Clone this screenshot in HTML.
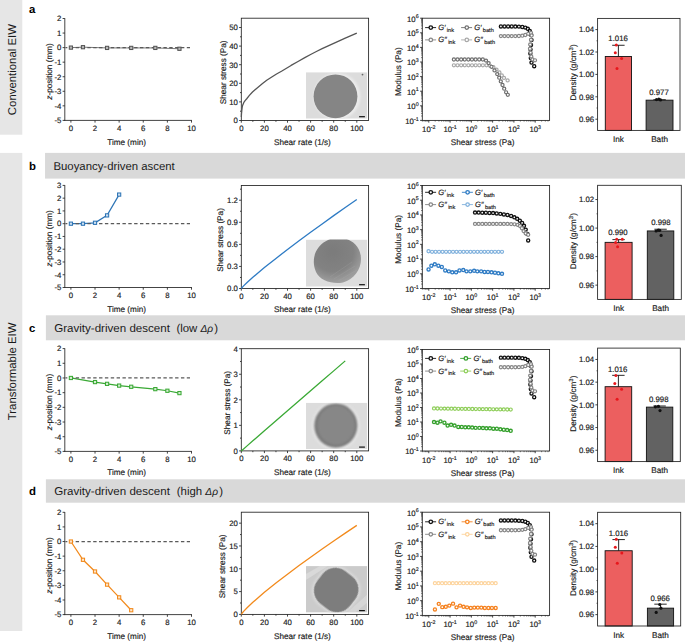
<!DOCTYPE html>
<html><head><meta charset="utf-8"><style>
html,body{margin:0;padding:0;background:#fff;}
svg{display:block;text-rendering:geometricPrecision;}
text{stroke:#1a1a1a;stroke-width:0.16px;}
text[font-size="11.4"]{stroke:none;}
svg{font-family:"Liberation Sans", sans-serif;}
</style></head><body>
<svg width="685" height="642" viewBox="0 0 685 642">
<rect x="0" y="0" width="22.3" height="134.7" fill="#e6e6e6"/>
<rect x="0" y="152.9" width="22.3" height="478.1" fill="#e6e6e6"/>
<text transform="translate(15.6,69.6) rotate(-90)" font-size="11.4" text-anchor="middle" fill="#1a1a1a" >Conventional EIW</text>
<text transform="translate(15.6,371.4) rotate(-90)" font-size="11.4" text-anchor="middle" fill="#1a1a1a" >Transformable EIW</text>
<rect x="45.05" y="152.9" width="639.95" height="25.7" fill="#d9d9d9"/>
<text x="29" y="169.75" font-size="11.4" text-anchor="start" fill="#000" font-weight="bold">b</text>
<text x="53.4" y="169.75" font-size="11.4" text-anchor="start" fill="#1a1a1a" textLength="121.4" lengthAdjust="spacingAndGlyphs">Buoyancy-driven ascent</text>
<rect x="45.9" y="315.3" width="639.1" height="25" fill="#d9d9d9"/>
<text x="29" y="332.2" font-size="11.4" text-anchor="start" fill="#000" font-weight="bold">c</text>
<text x="54.25" y="331.8" font-size="11.4" text-anchor="start" fill="#1a1a1a" textLength="115.6" lengthAdjust="spacingAndGlyphs">Gravity-driven descent</text>
<text x="176.4" y="331.8" font-size="11.4" text-anchor="start" fill="#1a1a1a" >(low <tspan font-style="italic" font-size="10.2">&#916;&#961;</tspan><tspan dx="1.2">)</tspan></text>
<rect x="45.9" y="479.3" width="639.1" height="23.4" fill="#d9d9d9"/>
<text x="29" y="495.4" font-size="11.4" text-anchor="start" fill="#000" font-weight="bold">d</text>
<text x="54.25" y="495" font-size="11.4" text-anchor="start" fill="#1a1a1a" textLength="115.6" lengthAdjust="spacingAndGlyphs">Gravity-driven descent</text>
<text x="176.8" y="495" font-size="11.4" text-anchor="start" fill="#1a1a1a" >(high <tspan font-style="italic" font-size="10.2">&#916;&#961;</tspan><tspan dx="1.2">)</tspan></text>
<text x="29" y="12.7" font-size="11.4" text-anchor="start" fill="#000" font-weight="bold">a</text>
<line x1="64.8" y1="18.2" x2="64.8" y2="120.85" stroke="#222" stroke-width="0.85" />
<line x1="64.35" y1="120.4" x2="191.95" y2="120.4" stroke="#222" stroke-width="0.85" />
<line x1="62.6" y1="120.4" x2="64.8" y2="120.4" stroke="#222" stroke-width="0.85" />
<text x="61.4" y="123.2" font-size="7.8" text-anchor="end" fill="#1a1a1a" >-5</text>
<line x1="62.6" y1="105.84" x2="64.8" y2="105.84" stroke="#222" stroke-width="0.85" />
<text x="61.4" y="108.64" font-size="7.8" text-anchor="end" fill="#1a1a1a" >-4</text>
<line x1="62.6" y1="91.29" x2="64.8" y2="91.29" stroke="#222" stroke-width="0.85" />
<text x="61.4" y="94.09" font-size="7.8" text-anchor="end" fill="#1a1a1a" >-3</text>
<line x1="62.6" y1="76.73" x2="64.8" y2="76.73" stroke="#222" stroke-width="0.85" />
<text x="61.4" y="79.53" font-size="7.8" text-anchor="end" fill="#1a1a1a" >-2</text>
<line x1="62.6" y1="62.17" x2="64.8" y2="62.17" stroke="#222" stroke-width="0.85" />
<text x="61.4" y="64.97" font-size="7.8" text-anchor="end" fill="#1a1a1a" >-1</text>
<line x1="62.6" y1="47.61" x2="64.8" y2="47.61" stroke="#222" stroke-width="0.85" />
<text x="61.4" y="50.41" font-size="7.8" text-anchor="end" fill="#1a1a1a" >0</text>
<line x1="62.6" y1="33.06" x2="64.8" y2="33.06" stroke="#222" stroke-width="0.85" />
<text x="61.4" y="35.86" font-size="7.8" text-anchor="end" fill="#1a1a1a" >1</text>
<line x1="62.6" y1="18.5" x2="64.8" y2="18.5" stroke="#222" stroke-width="0.85" />
<text x="61.4" y="21.3" font-size="7.8" text-anchor="end" fill="#1a1a1a" >2</text>
<line x1="70.9" y1="120.4" x2="70.9" y2="122.6" stroke="#222" stroke-width="0.85" />
<text x="70.9" y="130.6" font-size="7.8" text-anchor="middle" fill="#1a1a1a" >0</text>
<line x1="95.02" y1="120.4" x2="95.02" y2="122.6" stroke="#222" stroke-width="0.85" />
<text x="95.02" y="130.6" font-size="7.8" text-anchor="middle" fill="#1a1a1a" >2</text>
<line x1="119.14" y1="120.4" x2="119.14" y2="122.6" stroke="#222" stroke-width="0.85" />
<text x="119.14" y="130.6" font-size="7.8" text-anchor="middle" fill="#1a1a1a" >4</text>
<line x1="143.26" y1="120.4" x2="143.26" y2="122.6" stroke="#222" stroke-width="0.85" />
<text x="143.26" y="130.6" font-size="7.8" text-anchor="middle" fill="#1a1a1a" >6</text>
<line x1="167.38" y1="120.4" x2="167.38" y2="122.6" stroke="#222" stroke-width="0.85" />
<text x="167.38" y="130.6" font-size="7.8" text-anchor="middle" fill="#1a1a1a" >8</text>
<line x1="191.5" y1="120.4" x2="191.5" y2="122.6" stroke="#222" stroke-width="0.85" />
<text x="191.5" y="130.6" font-size="7.8" text-anchor="middle" fill="#1a1a1a" >10</text>
<polyline points="70.9,47.61 82.96,47.18 107.08,47.91 131.2,47.91 155.32,47.91 179.44,48.78" fill="none" stroke="#555" stroke-width="0.8"/>
<line x1="65.4" y1="47.61" x2="190" y2="47.61" stroke="#5a5a5a" stroke-width="1.3" stroke-dasharray="3.4,2.45" stroke-dashoffset="1.45"/>
<rect x="69.3" y="46.01" width="3.2" height="3.2" fill="#bbb" stroke="#555" stroke-width="1.05"/>
<rect x="81.36" y="45.58" width="3.2" height="3.2" fill="#bbb" stroke="#555" stroke-width="1.05"/>
<rect x="105.48" y="46.31" width="3.2" height="3.2" fill="#bbb" stroke="#555" stroke-width="1.05"/>
<rect x="129.6" y="46.31" width="3.2" height="3.2" fill="#bbb" stroke="#555" stroke-width="1.05"/>
<rect x="153.72" y="46.31" width="3.2" height="3.2" fill="#bbb" stroke="#555" stroke-width="1.05"/>
<rect x="177.84" y="47.18" width="3.2" height="3.2" fill="#bbb" stroke="#555" stroke-width="1.05"/>
<text x="126.6" y="144.8" font-size="8.2" text-anchor="middle" fill="#1a1a1a" >Time (min)</text>
<text transform="translate(51.7,71.45) rotate(-90)" font-size="8.2" text-anchor="middle" fill="#1a1a1a" ><tspan font-style="italic">z</tspan>-position (mm)</text>
<line x1="64.8" y1="185.1" x2="64.8" y2="287.95" stroke="#222" stroke-width="0.85" />
<line x1="64.35" y1="287.5" x2="191.95" y2="287.5" stroke="#222" stroke-width="0.85" />
<line x1="62.6" y1="287.5" x2="64.8" y2="287.5" stroke="#222" stroke-width="0.85" />
<text x="61.4" y="290.3" font-size="7.8" text-anchor="end" fill="#1a1a1a" >-5</text>
<line x1="62.6" y1="274.74" x2="64.8" y2="274.74" stroke="#222" stroke-width="0.85" />
<text x="61.4" y="277.54" font-size="7.8" text-anchor="end" fill="#1a1a1a" >-4</text>
<line x1="62.6" y1="261.98" x2="64.8" y2="261.98" stroke="#222" stroke-width="0.85" />
<text x="61.4" y="264.78" font-size="7.8" text-anchor="end" fill="#1a1a1a" >-3</text>
<line x1="62.6" y1="249.21" x2="64.8" y2="249.21" stroke="#222" stroke-width="0.85" />
<text x="61.4" y="252.01" font-size="7.8" text-anchor="end" fill="#1a1a1a" >-2</text>
<line x1="62.6" y1="236.45" x2="64.8" y2="236.45" stroke="#222" stroke-width="0.85" />
<text x="61.4" y="239.25" font-size="7.8" text-anchor="end" fill="#1a1a1a" >-1</text>
<line x1="62.6" y1="223.69" x2="64.8" y2="223.69" stroke="#222" stroke-width="0.85" />
<text x="61.4" y="226.49" font-size="7.8" text-anchor="end" fill="#1a1a1a" >0</text>
<line x1="62.6" y1="210.93" x2="64.8" y2="210.93" stroke="#222" stroke-width="0.85" />
<text x="61.4" y="213.73" font-size="7.8" text-anchor="end" fill="#1a1a1a" >1</text>
<line x1="62.6" y1="198.16" x2="64.8" y2="198.16" stroke="#222" stroke-width="0.85" />
<text x="61.4" y="200.96" font-size="7.8" text-anchor="end" fill="#1a1a1a" >2</text>
<line x1="62.6" y1="185.4" x2="64.8" y2="185.4" stroke="#222" stroke-width="0.85" />
<text x="61.4" y="188.2" font-size="7.8" text-anchor="end" fill="#1a1a1a" >3</text>
<line x1="70.9" y1="287.5" x2="70.9" y2="289.7" stroke="#222" stroke-width="0.85" />
<text x="70.9" y="297.7" font-size="7.8" text-anchor="middle" fill="#1a1a1a" >0</text>
<line x1="95.02" y1="287.5" x2="95.02" y2="289.7" stroke="#222" stroke-width="0.85" />
<text x="95.02" y="297.7" font-size="7.8" text-anchor="middle" fill="#1a1a1a" >2</text>
<line x1="119.14" y1="287.5" x2="119.14" y2="289.7" stroke="#222" stroke-width="0.85" />
<text x="119.14" y="297.7" font-size="7.8" text-anchor="middle" fill="#1a1a1a" >4</text>
<line x1="143.26" y1="287.5" x2="143.26" y2="289.7" stroke="#222" stroke-width="0.85" />
<text x="143.26" y="297.7" font-size="7.8" text-anchor="middle" fill="#1a1a1a" >6</text>
<line x1="167.38" y1="287.5" x2="167.38" y2="289.7" stroke="#222" stroke-width="0.85" />
<text x="167.38" y="297.7" font-size="7.8" text-anchor="middle" fill="#1a1a1a" >8</text>
<line x1="191.5" y1="287.5" x2="191.5" y2="289.7" stroke="#222" stroke-width="0.85" />
<text x="191.5" y="297.7" font-size="7.8" text-anchor="middle" fill="#1a1a1a" >10</text>
<polyline points="70.9,223.69 82.96,223.69 95.02,222.79 107.08,215.39 119.14,194.59" fill="none" stroke="#2e75b6" stroke-width="1.25"/>
<line x1="65.4" y1="223.69" x2="190" y2="223.69" stroke="#5a5a5a" stroke-width="1.3" stroke-dasharray="3.4,2.45" stroke-dashoffset="1.45"/>
<rect x="69.3" y="222.09" width="3.2" height="3.2" fill="#cfe0f0" stroke="#2e75b6" stroke-width="1.05"/>
<rect x="81.36" y="222.09" width="3.2" height="3.2" fill="#cfe0f0" stroke="#2e75b6" stroke-width="1.05"/>
<rect x="93.42" y="221.19" width="3.2" height="3.2" fill="#cfe0f0" stroke="#2e75b6" stroke-width="1.05"/>
<rect x="105.48" y="213.79" width="3.2" height="3.2" fill="#cfe0f0" stroke="#2e75b6" stroke-width="1.05"/>
<rect x="117.54" y="192.99" width="3.2" height="3.2" fill="#cfe0f0" stroke="#2e75b6" stroke-width="1.05"/>
<text x="126.6" y="311.7" font-size="8.2" text-anchor="middle" fill="#1a1a1a" >Time (min)</text>
<text transform="translate(51.7,238.45) rotate(-90)" font-size="8.2" text-anchor="middle" fill="#1a1a1a" ><tspan font-style="italic">z</tspan>-position (mm)</text>
<line x1="64.8" y1="348.3" x2="64.8" y2="451.85" stroke="#222" stroke-width="0.85" />
<line x1="64.35" y1="451.4" x2="191.95" y2="451.4" stroke="#222" stroke-width="0.85" />
<line x1="62.6" y1="451.4" x2="64.8" y2="451.4" stroke="#222" stroke-width="0.85" />
<text x="61.4" y="454.2" font-size="7.8" text-anchor="end" fill="#1a1a1a" >-5</text>
<line x1="62.6" y1="436.71" x2="64.8" y2="436.71" stroke="#222" stroke-width="0.85" />
<text x="61.4" y="439.51" font-size="7.8" text-anchor="end" fill="#1a1a1a" >-4</text>
<line x1="62.6" y1="422.03" x2="64.8" y2="422.03" stroke="#222" stroke-width="0.85" />
<text x="61.4" y="424.83" font-size="7.8" text-anchor="end" fill="#1a1a1a" >-3</text>
<line x1="62.6" y1="407.34" x2="64.8" y2="407.34" stroke="#222" stroke-width="0.85" />
<text x="61.4" y="410.14" font-size="7.8" text-anchor="end" fill="#1a1a1a" >-2</text>
<line x1="62.6" y1="392.66" x2="64.8" y2="392.66" stroke="#222" stroke-width="0.85" />
<text x="61.4" y="395.46" font-size="7.8" text-anchor="end" fill="#1a1a1a" >-1</text>
<line x1="62.6" y1="377.97" x2="64.8" y2="377.97" stroke="#222" stroke-width="0.85" />
<text x="61.4" y="380.77" font-size="7.8" text-anchor="end" fill="#1a1a1a" >0</text>
<line x1="62.6" y1="363.29" x2="64.8" y2="363.29" stroke="#222" stroke-width="0.85" />
<text x="61.4" y="366.09" font-size="7.8" text-anchor="end" fill="#1a1a1a" >1</text>
<line x1="62.6" y1="348.6" x2="64.8" y2="348.6" stroke="#222" stroke-width="0.85" />
<text x="61.4" y="351.4" font-size="7.8" text-anchor="end" fill="#1a1a1a" >2</text>
<line x1="70.9" y1="451.4" x2="70.9" y2="453.6" stroke="#222" stroke-width="0.85" />
<text x="70.9" y="461.6" font-size="7.8" text-anchor="middle" fill="#1a1a1a" >0</text>
<line x1="95.02" y1="451.4" x2="95.02" y2="453.6" stroke="#222" stroke-width="0.85" />
<text x="95.02" y="461.6" font-size="7.8" text-anchor="middle" fill="#1a1a1a" >2</text>
<line x1="119.14" y1="451.4" x2="119.14" y2="453.6" stroke="#222" stroke-width="0.85" />
<text x="119.14" y="461.6" font-size="7.8" text-anchor="middle" fill="#1a1a1a" >4</text>
<line x1="143.26" y1="451.4" x2="143.26" y2="453.6" stroke="#222" stroke-width="0.85" />
<text x="143.26" y="461.6" font-size="7.8" text-anchor="middle" fill="#1a1a1a" >6</text>
<line x1="167.38" y1="451.4" x2="167.38" y2="453.6" stroke="#222" stroke-width="0.85" />
<text x="167.38" y="461.6" font-size="7.8" text-anchor="middle" fill="#1a1a1a" >8</text>
<line x1="191.5" y1="451.4" x2="191.5" y2="453.6" stroke="#222" stroke-width="0.85" />
<text x="191.5" y="461.6" font-size="7.8" text-anchor="middle" fill="#1a1a1a" >10</text>
<polyline points="70.9,377.97 95.02,382.08 107.08,383.85 119.14,385.61 131.2,386.78 155.32,389.13 167.38,390.75 179.44,393.1" fill="none" stroke="#3aa935" stroke-width="1.25"/>
<line x1="65.4" y1="377.97" x2="190" y2="377.97" stroke="#5a5a5a" stroke-width="1.3" stroke-dasharray="3.4,2.45" stroke-dashoffset="1.45"/>
<rect x="69.3" y="376.37" width="3.2" height="3.2" fill="#d5eed2" stroke="#3aa935" stroke-width="1.05"/>
<rect x="93.42" y="380.48" width="3.2" height="3.2" fill="#d5eed2" stroke="#3aa935" stroke-width="1.05"/>
<rect x="105.48" y="382.25" width="3.2" height="3.2" fill="#d5eed2" stroke="#3aa935" stroke-width="1.05"/>
<rect x="117.54" y="384.01" width="3.2" height="3.2" fill="#d5eed2" stroke="#3aa935" stroke-width="1.05"/>
<rect x="129.6" y="385.18" width="3.2" height="3.2" fill="#d5eed2" stroke="#3aa935" stroke-width="1.05"/>
<rect x="153.72" y="387.53" width="3.2" height="3.2" fill="#d5eed2" stroke="#3aa935" stroke-width="1.05"/>
<rect x="165.78" y="389.15" width="3.2" height="3.2" fill="#d5eed2" stroke="#3aa935" stroke-width="1.05"/>
<rect x="177.84" y="391.5" width="3.2" height="3.2" fill="#d5eed2" stroke="#3aa935" stroke-width="1.05"/>
<text x="126.6" y="474.6" font-size="8.2" text-anchor="middle" fill="#1a1a1a" >Time (min)</text>
<text transform="translate(51.7,402) rotate(-90)" font-size="8.2" text-anchor="middle" fill="#1a1a1a" ><tspan font-style="italic">z</tspan>-position (mm)</text>
<line x1="64.8" y1="512" x2="64.8" y2="615.05" stroke="#222" stroke-width="0.85" />
<line x1="64.35" y1="614.6" x2="191.95" y2="614.6" stroke="#222" stroke-width="0.85" />
<line x1="62.6" y1="614.6" x2="64.8" y2="614.6" stroke="#222" stroke-width="0.85" />
<text x="61.4" y="617.4" font-size="7.8" text-anchor="end" fill="#1a1a1a" >-5</text>
<line x1="62.6" y1="599.99" x2="64.8" y2="599.99" stroke="#222" stroke-width="0.85" />
<text x="61.4" y="602.79" font-size="7.8" text-anchor="end" fill="#1a1a1a" >-4</text>
<line x1="62.6" y1="585.37" x2="64.8" y2="585.37" stroke="#222" stroke-width="0.85" />
<text x="61.4" y="588.17" font-size="7.8" text-anchor="end" fill="#1a1a1a" >-3</text>
<line x1="62.6" y1="570.76" x2="64.8" y2="570.76" stroke="#222" stroke-width="0.85" />
<text x="61.4" y="573.56" font-size="7.8" text-anchor="end" fill="#1a1a1a" >-2</text>
<line x1="62.6" y1="556.14" x2="64.8" y2="556.14" stroke="#222" stroke-width="0.85" />
<text x="61.4" y="558.94" font-size="7.8" text-anchor="end" fill="#1a1a1a" >-1</text>
<line x1="62.6" y1="541.53" x2="64.8" y2="541.53" stroke="#222" stroke-width="0.85" />
<text x="61.4" y="544.33" font-size="7.8" text-anchor="end" fill="#1a1a1a" >0</text>
<line x1="62.6" y1="526.91" x2="64.8" y2="526.91" stroke="#222" stroke-width="0.85" />
<text x="61.4" y="529.71" font-size="7.8" text-anchor="end" fill="#1a1a1a" >1</text>
<line x1="62.6" y1="512.3" x2="64.8" y2="512.3" stroke="#222" stroke-width="0.85" />
<text x="61.4" y="515.1" font-size="7.8" text-anchor="end" fill="#1a1a1a" >2</text>
<line x1="70.9" y1="614.6" x2="70.9" y2="616.8" stroke="#222" stroke-width="0.85" />
<text x="70.9" y="624.8" font-size="7.8" text-anchor="middle" fill="#1a1a1a" >0</text>
<line x1="95.02" y1="614.6" x2="95.02" y2="616.8" stroke="#222" stroke-width="0.85" />
<text x="95.02" y="624.8" font-size="7.8" text-anchor="middle" fill="#1a1a1a" >2</text>
<line x1="119.14" y1="614.6" x2="119.14" y2="616.8" stroke="#222" stroke-width="0.85" />
<text x="119.14" y="624.8" font-size="7.8" text-anchor="middle" fill="#1a1a1a" >4</text>
<line x1="143.26" y1="614.6" x2="143.26" y2="616.8" stroke="#222" stroke-width="0.85" />
<text x="143.26" y="624.8" font-size="7.8" text-anchor="middle" fill="#1a1a1a" >6</text>
<line x1="167.38" y1="614.6" x2="167.38" y2="616.8" stroke="#222" stroke-width="0.85" />
<text x="167.38" y="624.8" font-size="7.8" text-anchor="middle" fill="#1a1a1a" >8</text>
<line x1="191.5" y1="614.6" x2="191.5" y2="616.8" stroke="#222" stroke-width="0.85" />
<text x="191.5" y="624.8" font-size="7.8" text-anchor="middle" fill="#1a1a1a" >10</text>
<polyline points="70.9,541.53 82.96,559.8 95.02,571.49 107.08,584.64 119.14,597.36 131.2,610.22" fill="none" stroke="#f28a1c" stroke-width="1.25"/>
<line x1="65.4" y1="541.53" x2="190" y2="541.53" stroke="#5a5a5a" stroke-width="1.3" stroke-dasharray="3.4,2.45" stroke-dashoffset="1.45"/>
<rect x="69.3" y="539.93" width="3.2" height="3.2" fill="#fde6cc" stroke="#f28a1c" stroke-width="1.05"/>
<rect x="81.36" y="558.2" width="3.2" height="3.2" fill="#fde6cc" stroke="#f28a1c" stroke-width="1.05"/>
<rect x="93.42" y="569.89" width="3.2" height="3.2" fill="#fde6cc" stroke="#f28a1c" stroke-width="1.05"/>
<rect x="105.48" y="583.04" width="3.2" height="3.2" fill="#fde6cc" stroke="#f28a1c" stroke-width="1.05"/>
<rect x="117.54" y="595.76" width="3.2" height="3.2" fill="#fde6cc" stroke="#f28a1c" stroke-width="1.05"/>
<rect x="129.6" y="608.62" width="3.2" height="3.2" fill="#fde6cc" stroke="#f28a1c" stroke-width="1.05"/>
<text x="126.6" y="638.6" font-size="8.2" text-anchor="middle" fill="#1a1a1a" >Time (min)</text>
<text transform="translate(51.7,565.45) rotate(-90)" font-size="8.2" text-anchor="middle" fill="#1a1a1a" ><tspan font-style="italic">z</tspan>-position (mm)</text>
<defs><radialGradient id="gb" cx="0.4" cy="0.3" r="0.8"><stop offset="0" stop-color="#7b7b7b"/><stop offset="0.55" stop-color="#828282"/><stop offset="1" stop-color="#ababab"/></radialGradient><filter id="bl05" x="-20%" y="-20%" width="140%" height="140%"><feGaussianBlur stdDeviation="0.5"/></filter><filter id="bl1" x="-20%" y="-20%" width="140%" height="140%"><feGaussianBlur stdDeviation="1.0"/></filter></defs>
<clipPath id="clip18"><rect x="305.9" y="72.2" width="61.4" height="46.5"/></clipPath>
<g clip-path="url(#clip18)">
<rect x="305.9" y="72.2" width="61.4" height="46.5" fill="#dcdcdc"/>
<circle cx="337.0" cy="96.4" r="23.4" fill="#ebebeb" filter="url(#bl1)"/><circle cx="335.5" cy="96.3" r="21.9" fill="#858585" filter="url(#bl05)"/><circle cx="362.5" cy="74.6" r="0.9" fill="#666"/>
</g>
<rect x="359.1" y="116.1" width="5.8" height="1.2" fill="#111"/>
<rect x="241.3" y="18.2" width="127.3" height="102.3" fill="none" stroke="#222" stroke-width="0.85"/>
<line x1="239.1" y1="120.5" x2="241.3" y2="120.5" stroke="#222" stroke-width="0.85" />
<text x="237.9" y="123.3" font-size="7.8" text-anchor="end" fill="#1a1a1a" >0</text>
<line x1="239.1" y1="101.9" x2="241.3" y2="101.9" stroke="#222" stroke-width="0.85" />
<text x="237.9" y="104.7" font-size="7.8" text-anchor="end" fill="#1a1a1a" >10</text>
<line x1="239.1" y1="83.3" x2="241.3" y2="83.3" stroke="#222" stroke-width="0.85" />
<text x="237.9" y="86.1" font-size="7.8" text-anchor="end" fill="#1a1a1a" >20</text>
<line x1="239.1" y1="64.7" x2="241.3" y2="64.7" stroke="#222" stroke-width="0.85" />
<text x="237.9" y="67.5" font-size="7.8" text-anchor="end" fill="#1a1a1a" >30</text>
<line x1="239.1" y1="46.1" x2="241.3" y2="46.1" stroke="#222" stroke-width="0.85" />
<text x="237.9" y="48.9" font-size="7.8" text-anchor="end" fill="#1a1a1a" >40</text>
<line x1="239.1" y1="27.5" x2="241.3" y2="27.5" stroke="#222" stroke-width="0.85" />
<text x="237.9" y="30.3" font-size="7.8" text-anchor="end" fill="#1a1a1a" >50</text>
<line x1="240" y1="111.2" x2="241.3" y2="111.2" stroke="#222" stroke-width="0.85" />
<line x1="240" y1="92.6" x2="241.3" y2="92.6" stroke="#222" stroke-width="0.85" />
<line x1="240" y1="74" x2="241.3" y2="74" stroke="#222" stroke-width="0.85" />
<line x1="240" y1="55.4" x2="241.3" y2="55.4" stroke="#222" stroke-width="0.85" />
<line x1="240" y1="36.8" x2="241.3" y2="36.8" stroke="#222" stroke-width="0.85" />
<line x1="241.3" y1="120.5" x2="241.3" y2="122.7" stroke="#222" stroke-width="0.85" />
<text x="241.3" y="130.7" font-size="7.8" text-anchor="middle" fill="#1a1a1a" >0</text>
<line x1="264.4" y1="120.5" x2="264.4" y2="122.7" stroke="#222" stroke-width="0.85" />
<text x="264.4" y="130.7" font-size="7.8" text-anchor="middle" fill="#1a1a1a" >20</text>
<line x1="287.5" y1="120.5" x2="287.5" y2="122.7" stroke="#222" stroke-width="0.85" />
<text x="287.5" y="130.7" font-size="7.8" text-anchor="middle" fill="#1a1a1a" >40</text>
<line x1="310.6" y1="120.5" x2="310.6" y2="122.7" stroke="#222" stroke-width="0.85" />
<text x="310.6" y="130.7" font-size="7.8" text-anchor="middle" fill="#1a1a1a" >60</text>
<line x1="333.7" y1="120.5" x2="333.7" y2="122.7" stroke="#222" stroke-width="0.85" />
<text x="333.7" y="130.7" font-size="7.8" text-anchor="middle" fill="#1a1a1a" >80</text>
<line x1="356.8" y1="120.5" x2="356.8" y2="122.7" stroke="#222" stroke-width="0.85" />
<text x="356.8" y="130.7" font-size="7.8" text-anchor="middle" fill="#1a1a1a" >100</text>
<line x1="252.85" y1="120.5" x2="252.85" y2="121.8" stroke="#222" stroke-width="0.85" />
<line x1="275.95" y1="120.5" x2="275.95" y2="121.8" stroke="#222" stroke-width="0.85" />
<line x1="299.05" y1="120.5" x2="299.05" y2="121.8" stroke="#222" stroke-width="0.85" />
<line x1="322.15" y1="120.5" x2="322.15" y2="121.8" stroke="#222" stroke-width="0.85" />
<line x1="345.25" y1="120.5" x2="345.25" y2="121.8" stroke="#222" stroke-width="0.85" />
<polyline points="241.32,116.97 241.47,113.99 241.76,110.83 242.11,107.85 242.57,105.43 243.84,102.46 245.11,100.6 246.73,98.74 249.39,95.39 252.5,92.04 256.89,88.14 262.21,83.86 266.71,80.32 271.79,76.98 276.53,74 281.49,71.21 291.08,65.44 298.01,61.54 304.82,57.63 310.6,54.47 316.38,51.49 322.15,48.7 333.7,43.31 345.25,38.1 356.8,33.08" fill="none" stroke="#555" stroke-width="1.3" stroke-linejoin="round"/>
<text x="302.4" y="144.8" font-size="8.2" text-anchor="middle" fill="#1a1a1a" >Shear rate (1/s)</text>
<text transform="translate(226,72.35) rotate(-90)" font-size="8.2" text-anchor="middle" fill="#1a1a1a" >Shear stress (Pa)</text>
<clipPath id="clip185"><rect x="305.9" y="239.6" width="61.4" height="47.1"/></clipPath>
<g clip-path="url(#clip185)">
<rect x="305.9" y="239.6" width="61.4" height="47.1" fill="#dddddd"/>
<path d="M313.8,262 C313.8,251 320,243.5 329,239.5 C333,237.5 344,237.5 348,239.5 C356,243 361,250 361,259 C361,270 354,279 343,282.5 C333,284.5 320,281 316,272 C314.5,268 313.8,265 313.8,262 Z" fill="url(#gb)" filter="url(#bl05)"/><path d="M330,277 L352,262 M334,279 L355,266 M338,281 L357,270" stroke="#b0b0b0" stroke-width="0.6" opacity="0.35"/>
</g>
<rect x="359.1" y="284.1" width="5.8" height="1.2" fill="#111"/>
<rect x="241.3" y="185.5" width="127.3" height="103" fill="none" stroke="#222" stroke-width="0.85"/>
<line x1="239.1" y1="288.5" x2="241.3" y2="288.5" stroke="#222" stroke-width="0.85" />
<text x="237.9" y="291.3" font-size="7.8" text-anchor="end" fill="#1a1a1a" >0.0</text>
<line x1="239.1" y1="266.43" x2="241.3" y2="266.43" stroke="#222" stroke-width="0.85" />
<text x="237.9" y="269.23" font-size="7.8" text-anchor="end" fill="#1a1a1a" >0.3</text>
<line x1="239.1" y1="244.36" x2="241.3" y2="244.36" stroke="#222" stroke-width="0.85" />
<text x="237.9" y="247.16" font-size="7.8" text-anchor="end" fill="#1a1a1a" >0.6</text>
<line x1="239.1" y1="222.29" x2="241.3" y2="222.29" stroke="#222" stroke-width="0.85" />
<text x="237.9" y="225.09" font-size="7.8" text-anchor="end" fill="#1a1a1a" >0.9</text>
<line x1="239.1" y1="200.21" x2="241.3" y2="200.21" stroke="#222" stroke-width="0.85" />
<text x="237.9" y="203.01" font-size="7.8" text-anchor="end" fill="#1a1a1a" >1.2</text>
<line x1="240" y1="277.46" x2="241.3" y2="277.46" stroke="#222" stroke-width="0.85" />
<line x1="240" y1="255.39" x2="241.3" y2="255.39" stroke="#222" stroke-width="0.85" />
<line x1="240" y1="233.32" x2="241.3" y2="233.32" stroke="#222" stroke-width="0.85" />
<line x1="240" y1="211.25" x2="241.3" y2="211.25" stroke="#222" stroke-width="0.85" />
<line x1="240" y1="189.18" x2="241.3" y2="189.18" stroke="#222" stroke-width="0.85" />
<line x1="241.3" y1="288.5" x2="241.3" y2="290.7" stroke="#222" stroke-width="0.85" />
<text x="241.3" y="298.7" font-size="7.8" text-anchor="middle" fill="#1a1a1a" >0</text>
<line x1="264.4" y1="288.5" x2="264.4" y2="290.7" stroke="#222" stroke-width="0.85" />
<text x="264.4" y="298.7" font-size="7.8" text-anchor="middle" fill="#1a1a1a" >20</text>
<line x1="287.5" y1="288.5" x2="287.5" y2="290.7" stroke="#222" stroke-width="0.85" />
<text x="287.5" y="298.7" font-size="7.8" text-anchor="middle" fill="#1a1a1a" >40</text>
<line x1="310.6" y1="288.5" x2="310.6" y2="290.7" stroke="#222" stroke-width="0.85" />
<text x="310.6" y="298.7" font-size="7.8" text-anchor="middle" fill="#1a1a1a" >60</text>
<line x1="333.7" y1="288.5" x2="333.7" y2="290.7" stroke="#222" stroke-width="0.85" />
<text x="333.7" y="298.7" font-size="7.8" text-anchor="middle" fill="#1a1a1a" >80</text>
<line x1="356.8" y1="288.5" x2="356.8" y2="290.7" stroke="#222" stroke-width="0.85" />
<text x="356.8" y="298.7" font-size="7.8" text-anchor="middle" fill="#1a1a1a" >100</text>
<line x1="252.85" y1="288.5" x2="252.85" y2="289.8" stroke="#222" stroke-width="0.85" />
<line x1="275.95" y1="288.5" x2="275.95" y2="289.8" stroke="#222" stroke-width="0.85" />
<line x1="299.05" y1="288.5" x2="299.05" y2="289.8" stroke="#222" stroke-width="0.85" />
<line x1="322.15" y1="288.5" x2="322.15" y2="289.8" stroke="#222" stroke-width="0.85" />
<line x1="345.25" y1="288.5" x2="345.25" y2="289.8" stroke="#222" stroke-width="0.85" />
<polyline points="241.3,288.5 242.46,287.09 243.61,285.88 247.08,282.51 252.85,277.31 264.4,267.61 275.95,258.4 287.5,249.49 299.05,240.8 310.6,232.28 322.15,223.91 333.7,215.65 345.25,207.49 356.8,199.43" fill="none" stroke="#2e7bc4" stroke-width="1.3" stroke-linejoin="round"/>
<text x="302.4" y="312" font-size="8.2" text-anchor="middle" fill="#1a1a1a" >Shear rate (1/s)</text>
<text transform="translate(223,240) rotate(-90)" font-size="8.2" text-anchor="middle" fill="#1a1a1a" >Shear stress (Pa)</text>
<clipPath id="clip348"><rect x="305.9" y="402.7" width="61.4" height="46.4"/></clipPath>
<g clip-path="url(#clip348)">
<rect x="305.9" y="402.7" width="61.4" height="46.4" fill="#dcdcdc"/>
<ellipse cx="335.8" cy="425.8" rx="23.8" ry="24" fill="#eaeaea" filter="url(#bl1)"/><ellipse cx="335.8" cy="425.6" rx="21.6" ry="22.2" fill="#7c7c7c" filter="url(#bl1)"/><ellipse cx="336.2" cy="425.2" rx="18.5" ry="19.5" fill="#878787" filter="url(#bl1)"/>
</g>
<rect x="359.1" y="446.5" width="5.8" height="1.2" fill="#111"/>
<rect x="241.3" y="348.7" width="127.3" height="102.2" fill="none" stroke="#222" stroke-width="0.85"/>
<line x1="239.1" y1="450.9" x2="241.3" y2="450.9" stroke="#222" stroke-width="0.85" />
<text x="237.9" y="453.7" font-size="7.8" text-anchor="end" fill="#1a1a1a" >0</text>
<line x1="239.1" y1="425.35" x2="241.3" y2="425.35" stroke="#222" stroke-width="0.85" />
<text x="237.9" y="428.15" font-size="7.8" text-anchor="end" fill="#1a1a1a" >1</text>
<line x1="239.1" y1="399.8" x2="241.3" y2="399.8" stroke="#222" stroke-width="0.85" />
<text x="237.9" y="402.6" font-size="7.8" text-anchor="end" fill="#1a1a1a" >2</text>
<line x1="239.1" y1="374.25" x2="241.3" y2="374.25" stroke="#222" stroke-width="0.85" />
<text x="237.9" y="377.05" font-size="7.8" text-anchor="end" fill="#1a1a1a" >3</text>
<line x1="239.1" y1="348.7" x2="241.3" y2="348.7" stroke="#222" stroke-width="0.85" />
<text x="237.9" y="351.5" font-size="7.8" text-anchor="end" fill="#1a1a1a" >4</text>
<line x1="240" y1="438.12" x2="241.3" y2="438.12" stroke="#222" stroke-width="0.85" />
<line x1="240" y1="412.57" x2="241.3" y2="412.57" stroke="#222" stroke-width="0.85" />
<line x1="240" y1="387.02" x2="241.3" y2="387.02" stroke="#222" stroke-width="0.85" />
<line x1="240" y1="361.48" x2="241.3" y2="361.48" stroke="#222" stroke-width="0.85" />
<line x1="241.3" y1="450.9" x2="241.3" y2="453.1" stroke="#222" stroke-width="0.85" />
<text x="241.3" y="461.1" font-size="7.8" text-anchor="middle" fill="#1a1a1a" >0</text>
<line x1="264.4" y1="450.9" x2="264.4" y2="453.1" stroke="#222" stroke-width="0.85" />
<text x="264.4" y="461.1" font-size="7.8" text-anchor="middle" fill="#1a1a1a" >20</text>
<line x1="287.5" y1="450.9" x2="287.5" y2="453.1" stroke="#222" stroke-width="0.85" />
<text x="287.5" y="461.1" font-size="7.8" text-anchor="middle" fill="#1a1a1a" >40</text>
<line x1="310.6" y1="450.9" x2="310.6" y2="453.1" stroke="#222" stroke-width="0.85" />
<text x="310.6" y="461.1" font-size="7.8" text-anchor="middle" fill="#1a1a1a" >60</text>
<line x1="333.7" y1="450.9" x2="333.7" y2="453.1" stroke="#222" stroke-width="0.85" />
<text x="333.7" y="461.1" font-size="7.8" text-anchor="middle" fill="#1a1a1a" >80</text>
<line x1="356.8" y1="450.9" x2="356.8" y2="453.1" stroke="#222" stroke-width="0.85" />
<text x="356.8" y="461.1" font-size="7.8" text-anchor="middle" fill="#1a1a1a" >100</text>
<line x1="252.85" y1="450.9" x2="252.85" y2="452.2" stroke="#222" stroke-width="0.85" />
<line x1="275.95" y1="450.9" x2="275.95" y2="452.2" stroke="#222" stroke-width="0.85" />
<line x1="299.05" y1="450.9" x2="299.05" y2="452.2" stroke="#222" stroke-width="0.85" />
<line x1="322.15" y1="450.9" x2="322.15" y2="452.2" stroke="#222" stroke-width="0.85" />
<line x1="345.25" y1="450.9" x2="345.25" y2="452.2" stroke="#222" stroke-width="0.85" />
<polyline points="241.3,450.9 242.46,449.89 247.08,445.87 252.85,440.85 264.4,430.84 275.95,420.83 287.5,410.83 299.05,400.83 310.6,390.84 322.15,380.85 333.7,370.87 345.25,360.88" fill="none" stroke="#3aa935" stroke-width="1.3" stroke-linejoin="round"/>
<text x="302.4" y="474.8" font-size="8.2" text-anchor="middle" fill="#1a1a1a" >Shear rate (1/s)</text>
<text transform="translate(230,402.8) rotate(-90)" font-size="8.2" text-anchor="middle" fill="#1a1a1a" >Shear stress (Pa)</text>
<clipPath id="clip512"><rect x="305.9" y="566.1" width="61.4" height="46.5"/></clipPath>
<g clip-path="url(#clip512)">
<rect x="305.9" y="566.1" width="61.4" height="46.5" fill="#cbcbcb"/>
<path d="M305.9,574.1 L319.9,566.1 L327.9,566.1 L305.9,580.1 Z" fill="#dedede" opacity="0.7"/><path d="M347.3,612.6 L367.3,594.6 L367.3,602.6 L355.3,612.6 Z" fill="#dedede" opacity="0.6"/><rect x="313.7" y="567.5" width="45" height="45" rx="18" fill="#dadada" filter="url(#bl1)" transform="rotate(38 336.2 590)"/><rect x="315.6" y="569.4" width="41.2" height="41.2" rx="16.5" fill="#7d7d7d" filter="url(#bl05)" transform="rotate(38 336.2 590)"/>
</g>
<rect x="359.1" y="610" width="5.8" height="1.2" fill="#111"/>
<rect x="241.3" y="512.2" width="127.3" height="102.2" fill="none" stroke="#222" stroke-width="0.85"/>
<line x1="239.1" y1="614.4" x2="241.3" y2="614.4" stroke="#222" stroke-width="0.85" />
<text x="237.9" y="617.2" font-size="7.8" text-anchor="end" fill="#1a1a1a" >0</text>
<line x1="239.1" y1="591.59" x2="241.3" y2="591.59" stroke="#222" stroke-width="0.85" />
<text x="237.9" y="594.39" font-size="7.8" text-anchor="end" fill="#1a1a1a" >5</text>
<line x1="239.1" y1="568.77" x2="241.3" y2="568.77" stroke="#222" stroke-width="0.85" />
<text x="237.9" y="571.57" font-size="7.8" text-anchor="end" fill="#1a1a1a" >10</text>
<line x1="239.1" y1="545.96" x2="241.3" y2="545.96" stroke="#222" stroke-width="0.85" />
<text x="237.9" y="548.76" font-size="7.8" text-anchor="end" fill="#1a1a1a" >15</text>
<line x1="239.1" y1="523.15" x2="241.3" y2="523.15" stroke="#222" stroke-width="0.85" />
<text x="237.9" y="525.95" font-size="7.8" text-anchor="end" fill="#1a1a1a" >20</text>
<line x1="240" y1="602.99" x2="241.3" y2="602.99" stroke="#222" stroke-width="0.85" />
<line x1="240" y1="580.18" x2="241.3" y2="580.18" stroke="#222" stroke-width="0.85" />
<line x1="240" y1="557.37" x2="241.3" y2="557.37" stroke="#222" stroke-width="0.85" />
<line x1="240" y1="534.56" x2="241.3" y2="534.56" stroke="#222" stroke-width="0.85" />
<line x1="241.3" y1="614.4" x2="241.3" y2="616.6" stroke="#222" stroke-width="0.85" />
<text x="241.3" y="624.6" font-size="7.8" text-anchor="middle" fill="#1a1a1a" >0</text>
<line x1="264.4" y1="614.4" x2="264.4" y2="616.6" stroke="#222" stroke-width="0.85" />
<text x="264.4" y="624.6" font-size="7.8" text-anchor="middle" fill="#1a1a1a" >20</text>
<line x1="287.5" y1="614.4" x2="287.5" y2="616.6" stroke="#222" stroke-width="0.85" />
<text x="287.5" y="624.6" font-size="7.8" text-anchor="middle" fill="#1a1a1a" >40</text>
<line x1="310.6" y1="614.4" x2="310.6" y2="616.6" stroke="#222" stroke-width="0.85" />
<text x="310.6" y="624.6" font-size="7.8" text-anchor="middle" fill="#1a1a1a" >60</text>
<line x1="333.7" y1="614.4" x2="333.7" y2="616.6" stroke="#222" stroke-width="0.85" />
<text x="333.7" y="624.6" font-size="7.8" text-anchor="middle" fill="#1a1a1a" >80</text>
<line x1="356.8" y1="614.4" x2="356.8" y2="616.6" stroke="#222" stroke-width="0.85" />
<text x="356.8" y="624.6" font-size="7.8" text-anchor="middle" fill="#1a1a1a" >100</text>
<line x1="252.85" y1="614.4" x2="252.85" y2="615.7" stroke="#222" stroke-width="0.85" />
<line x1="275.95" y1="614.4" x2="275.95" y2="615.7" stroke="#222" stroke-width="0.85" />
<line x1="299.05" y1="614.4" x2="299.05" y2="615.7" stroke="#222" stroke-width="0.85" />
<line x1="322.15" y1="614.4" x2="322.15" y2="615.7" stroke="#222" stroke-width="0.85" />
<line x1="345.25" y1="614.4" x2="345.25" y2="615.7" stroke="#222" stroke-width="0.85" />
<polyline points="241.3,614.4 242.46,612.75 243.61,611.39 247.08,607.75 252.85,602.28 264.4,592.31 275.95,583.02 287.5,574.15 299.05,565.56 310.6,557.21 322.15,549.04 333.7,541.03 345.25,533.15 356.8,525.39" fill="none" stroke="#f28a1c" stroke-width="1.3" stroke-linejoin="round"/>
<text x="302.4" y="638.6" font-size="8.2" text-anchor="middle" fill="#1a1a1a" >Shear rate (1/s)</text>
<text transform="translate(225,566.3) rotate(-90)" font-size="8.2" text-anchor="middle" fill="#1a1a1a" >Shear stress (Pa)</text>
<rect x="422.3" y="18.2" width="127.3" height="102.2" fill="none" stroke="#222" stroke-width="0.85"/>
<line x1="420.1" y1="120.4" x2="422.3" y2="120.4" stroke="#222" stroke-width="0.85" />
<text x="418.6" y="123.7" font-size="7.8" text-anchor="end" fill="#1a1a1a">10<tspan font-size="5.3" dy="-3.2">-1</tspan></text>
<line x1="421.1" y1="116" x2="422.3" y2="116" stroke="#222" stroke-width="0.6" />
<line x1="421.1" y1="113.43" x2="422.3" y2="113.43" stroke="#222" stroke-width="0.6" />
<line x1="421.1" y1="111.61" x2="422.3" y2="111.61" stroke="#222" stroke-width="0.6" />
<line x1="421.1" y1="110.2" x2="422.3" y2="110.2" stroke="#222" stroke-width="0.6" />
<line x1="421.1" y1="109.04" x2="422.3" y2="109.04" stroke="#222" stroke-width="0.6" />
<line x1="421.1" y1="108.06" x2="422.3" y2="108.06" stroke="#222" stroke-width="0.6" />
<line x1="421.1" y1="107.21" x2="422.3" y2="107.21" stroke="#222" stroke-width="0.6" />
<line x1="421.1" y1="106.47" x2="422.3" y2="106.47" stroke="#222" stroke-width="0.6" />
<line x1="420.1" y1="105.8" x2="422.3" y2="105.8" stroke="#222" stroke-width="0.85" />
<text x="418.6" y="109.1" font-size="7.8" text-anchor="end" fill="#1a1a1a">10<tspan font-size="5.3" dy="-3.2">0</tspan></text>
<line x1="421.1" y1="101.4" x2="422.3" y2="101.4" stroke="#222" stroke-width="0.6" />
<line x1="421.1" y1="98.83" x2="422.3" y2="98.83" stroke="#222" stroke-width="0.6" />
<line x1="421.1" y1="97.01" x2="422.3" y2="97.01" stroke="#222" stroke-width="0.6" />
<line x1="421.1" y1="95.6" x2="422.3" y2="95.6" stroke="#222" stroke-width="0.6" />
<line x1="421.1" y1="94.44" x2="422.3" y2="94.44" stroke="#222" stroke-width="0.6" />
<line x1="421.1" y1="93.46" x2="422.3" y2="93.46" stroke="#222" stroke-width="0.6" />
<line x1="421.1" y1="92.61" x2="422.3" y2="92.61" stroke="#222" stroke-width="0.6" />
<line x1="421.1" y1="91.87" x2="422.3" y2="91.87" stroke="#222" stroke-width="0.6" />
<line x1="420.1" y1="91.2" x2="422.3" y2="91.2" stroke="#222" stroke-width="0.85" />
<text x="418.6" y="94.5" font-size="7.8" text-anchor="end" fill="#1a1a1a">10<tspan font-size="5.3" dy="-3.2">1</tspan></text>
<line x1="421.1" y1="86.8" x2="422.3" y2="86.8" stroke="#222" stroke-width="0.6" />
<line x1="421.1" y1="84.23" x2="422.3" y2="84.23" stroke="#222" stroke-width="0.6" />
<line x1="421.1" y1="82.41" x2="422.3" y2="82.41" stroke="#222" stroke-width="0.6" />
<line x1="421.1" y1="81" x2="422.3" y2="81" stroke="#222" stroke-width="0.6" />
<line x1="421.1" y1="79.84" x2="422.3" y2="79.84" stroke="#222" stroke-width="0.6" />
<line x1="421.1" y1="78.86" x2="422.3" y2="78.86" stroke="#222" stroke-width="0.6" />
<line x1="421.1" y1="78.01" x2="422.3" y2="78.01" stroke="#222" stroke-width="0.6" />
<line x1="421.1" y1="77.27" x2="422.3" y2="77.27" stroke="#222" stroke-width="0.6" />
<line x1="420.1" y1="76.6" x2="422.3" y2="76.6" stroke="#222" stroke-width="0.85" />
<text x="418.6" y="79.9" font-size="7.8" text-anchor="end" fill="#1a1a1a">10<tspan font-size="5.3" dy="-3.2">2</tspan></text>
<line x1="421.1" y1="72.2" x2="422.3" y2="72.2" stroke="#222" stroke-width="0.6" />
<line x1="421.1" y1="69.63" x2="422.3" y2="69.63" stroke="#222" stroke-width="0.6" />
<line x1="421.1" y1="67.81" x2="422.3" y2="67.81" stroke="#222" stroke-width="0.6" />
<line x1="421.1" y1="66.4" x2="422.3" y2="66.4" stroke="#222" stroke-width="0.6" />
<line x1="421.1" y1="65.24" x2="422.3" y2="65.24" stroke="#222" stroke-width="0.6" />
<line x1="421.1" y1="64.26" x2="422.3" y2="64.26" stroke="#222" stroke-width="0.6" />
<line x1="421.1" y1="63.41" x2="422.3" y2="63.41" stroke="#222" stroke-width="0.6" />
<line x1="421.1" y1="62.67" x2="422.3" y2="62.67" stroke="#222" stroke-width="0.6" />
<line x1="420.1" y1="62" x2="422.3" y2="62" stroke="#222" stroke-width="0.85" />
<text x="418.6" y="65.3" font-size="7.8" text-anchor="end" fill="#1a1a1a">10<tspan font-size="5.3" dy="-3.2">3</tspan></text>
<line x1="421.1" y1="57.6" x2="422.3" y2="57.6" stroke="#222" stroke-width="0.6" />
<line x1="421.1" y1="55.03" x2="422.3" y2="55.03" stroke="#222" stroke-width="0.6" />
<line x1="421.1" y1="53.21" x2="422.3" y2="53.21" stroke="#222" stroke-width="0.6" />
<line x1="421.1" y1="51.8" x2="422.3" y2="51.8" stroke="#222" stroke-width="0.6" />
<line x1="421.1" y1="50.64" x2="422.3" y2="50.64" stroke="#222" stroke-width="0.6" />
<line x1="421.1" y1="49.66" x2="422.3" y2="49.66" stroke="#222" stroke-width="0.6" />
<line x1="421.1" y1="48.81" x2="422.3" y2="48.81" stroke="#222" stroke-width="0.6" />
<line x1="421.1" y1="48.07" x2="422.3" y2="48.07" stroke="#222" stroke-width="0.6" />
<line x1="420.1" y1="47.4" x2="422.3" y2="47.4" stroke="#222" stroke-width="0.85" />
<text x="418.6" y="50.7" font-size="7.8" text-anchor="end" fill="#1a1a1a">10<tspan font-size="5.3" dy="-3.2">4</tspan></text>
<line x1="421.1" y1="43" x2="422.3" y2="43" stroke="#222" stroke-width="0.6" />
<line x1="421.1" y1="40.43" x2="422.3" y2="40.43" stroke="#222" stroke-width="0.6" />
<line x1="421.1" y1="38.61" x2="422.3" y2="38.61" stroke="#222" stroke-width="0.6" />
<line x1="421.1" y1="37.2" x2="422.3" y2="37.2" stroke="#222" stroke-width="0.6" />
<line x1="421.1" y1="36.04" x2="422.3" y2="36.04" stroke="#222" stroke-width="0.6" />
<line x1="421.1" y1="35.06" x2="422.3" y2="35.06" stroke="#222" stroke-width="0.6" />
<line x1="421.1" y1="34.21" x2="422.3" y2="34.21" stroke="#222" stroke-width="0.6" />
<line x1="421.1" y1="33.47" x2="422.3" y2="33.47" stroke="#222" stroke-width="0.6" />
<line x1="420.1" y1="32.8" x2="422.3" y2="32.8" stroke="#222" stroke-width="0.85" />
<text x="418.6" y="36.1" font-size="7.8" text-anchor="end" fill="#1a1a1a">10<tspan font-size="5.3" dy="-3.2">5</tspan></text>
<line x1="421.1" y1="28.4" x2="422.3" y2="28.4" stroke="#222" stroke-width="0.6" />
<line x1="421.1" y1="25.83" x2="422.3" y2="25.83" stroke="#222" stroke-width="0.6" />
<line x1="421.1" y1="24.01" x2="422.3" y2="24.01" stroke="#222" stroke-width="0.6" />
<line x1="421.1" y1="22.6" x2="422.3" y2="22.6" stroke="#222" stroke-width="0.6" />
<line x1="421.1" y1="21.44" x2="422.3" y2="21.44" stroke="#222" stroke-width="0.6" />
<line x1="421.1" y1="20.46" x2="422.3" y2="20.46" stroke="#222" stroke-width="0.6" />
<line x1="421.1" y1="19.61" x2="422.3" y2="19.61" stroke="#222" stroke-width="0.6" />
<line x1="421.1" y1="18.87" x2="422.3" y2="18.87" stroke="#222" stroke-width="0.6" />
<line x1="420.1" y1="18.2" x2="422.3" y2="18.2" stroke="#222" stroke-width="0.85" />
<text x="418.6" y="21.5" font-size="7.8" text-anchor="end" fill="#1a1a1a">10<tspan font-size="5.3" dy="-3.2">6</tspan></text>
<line x1="422.39" y1="120.4" x2="422.39" y2="121.6" stroke="#222" stroke-width="0.6" />
<line x1="424.08" y1="120.4" x2="424.08" y2="121.6" stroke="#222" stroke-width="0.6" />
<line x1="425.5" y1="120.4" x2="425.5" y2="121.6" stroke="#222" stroke-width="0.6" />
<line x1="426.74" y1="120.4" x2="426.74" y2="121.6" stroke="#222" stroke-width="0.6" />
<line x1="427.83" y1="120.4" x2="427.83" y2="121.6" stroke="#222" stroke-width="0.6" />
<line x1="428.8" y1="120.4" x2="428.8" y2="122.6" stroke="#222" stroke-width="0.85" />
<text x="428.8" y="132.3" font-size="7.8" text-anchor="middle" fill="#1a1a1a">10<tspan font-size="5.3" dy="-3.2">-2</tspan></text>
<line x1="435.21" y1="120.4" x2="435.21" y2="121.6" stroke="#222" stroke-width="0.6" />
<line x1="438.95" y1="120.4" x2="438.95" y2="121.6" stroke="#222" stroke-width="0.6" />
<line x1="441.61" y1="120.4" x2="441.61" y2="121.6" stroke="#222" stroke-width="0.6" />
<line x1="443.67" y1="120.4" x2="443.67" y2="121.6" stroke="#222" stroke-width="0.6" />
<line x1="445.36" y1="120.4" x2="445.36" y2="121.6" stroke="#222" stroke-width="0.6" />
<line x1="446.78" y1="120.4" x2="446.78" y2="121.6" stroke="#222" stroke-width="0.6" />
<line x1="448.02" y1="120.4" x2="448.02" y2="121.6" stroke="#222" stroke-width="0.6" />
<line x1="449.11" y1="120.4" x2="449.11" y2="121.6" stroke="#222" stroke-width="0.6" />
<line x1="450.08" y1="120.4" x2="450.08" y2="122.6" stroke="#222" stroke-width="0.85" />
<text x="450.08" y="132.3" font-size="7.8" text-anchor="middle" fill="#1a1a1a">10<tspan font-size="5.3" dy="-3.2">-1</tspan></text>
<line x1="456.49" y1="120.4" x2="456.49" y2="121.6" stroke="#222" stroke-width="0.6" />
<line x1="460.23" y1="120.4" x2="460.23" y2="121.6" stroke="#222" stroke-width="0.6" />
<line x1="462.89" y1="120.4" x2="462.89" y2="121.6" stroke="#222" stroke-width="0.6" />
<line x1="464.95" y1="120.4" x2="464.95" y2="121.6" stroke="#222" stroke-width="0.6" />
<line x1="466.64" y1="120.4" x2="466.64" y2="121.6" stroke="#222" stroke-width="0.6" />
<line x1="468.06" y1="120.4" x2="468.06" y2="121.6" stroke="#222" stroke-width="0.6" />
<line x1="469.3" y1="120.4" x2="469.3" y2="121.6" stroke="#222" stroke-width="0.6" />
<line x1="470.39" y1="120.4" x2="470.39" y2="121.6" stroke="#222" stroke-width="0.6" />
<line x1="471.36" y1="120.4" x2="471.36" y2="122.6" stroke="#222" stroke-width="0.85" />
<text x="471.36" y="132.3" font-size="7.8" text-anchor="middle" fill="#1a1a1a">10<tspan font-size="5.3" dy="-3.2">0</tspan></text>
<line x1="477.77" y1="120.4" x2="477.77" y2="121.6" stroke="#222" stroke-width="0.6" />
<line x1="481.51" y1="120.4" x2="481.51" y2="121.6" stroke="#222" stroke-width="0.6" />
<line x1="484.17" y1="120.4" x2="484.17" y2="121.6" stroke="#222" stroke-width="0.6" />
<line x1="486.23" y1="120.4" x2="486.23" y2="121.6" stroke="#222" stroke-width="0.6" />
<line x1="487.92" y1="120.4" x2="487.92" y2="121.6" stroke="#222" stroke-width="0.6" />
<line x1="489.34" y1="120.4" x2="489.34" y2="121.6" stroke="#222" stroke-width="0.6" />
<line x1="490.58" y1="120.4" x2="490.58" y2="121.6" stroke="#222" stroke-width="0.6" />
<line x1="491.67" y1="120.4" x2="491.67" y2="121.6" stroke="#222" stroke-width="0.6" />
<line x1="492.64" y1="120.4" x2="492.64" y2="122.6" stroke="#222" stroke-width="0.85" />
<text x="492.64" y="132.3" font-size="7.8" text-anchor="middle" fill="#1a1a1a">10<tspan font-size="5.3" dy="-3.2">1</tspan></text>
<line x1="499.05" y1="120.4" x2="499.05" y2="121.6" stroke="#222" stroke-width="0.6" />
<line x1="502.79" y1="120.4" x2="502.79" y2="121.6" stroke="#222" stroke-width="0.6" />
<line x1="505.45" y1="120.4" x2="505.45" y2="121.6" stroke="#222" stroke-width="0.6" />
<line x1="507.51" y1="120.4" x2="507.51" y2="121.6" stroke="#222" stroke-width="0.6" />
<line x1="509.2" y1="120.4" x2="509.2" y2="121.6" stroke="#222" stroke-width="0.6" />
<line x1="510.62" y1="120.4" x2="510.62" y2="121.6" stroke="#222" stroke-width="0.6" />
<line x1="511.86" y1="120.4" x2="511.86" y2="121.6" stroke="#222" stroke-width="0.6" />
<line x1="512.95" y1="120.4" x2="512.95" y2="121.6" stroke="#222" stroke-width="0.6" />
<line x1="513.92" y1="120.4" x2="513.92" y2="122.6" stroke="#222" stroke-width="0.85" />
<text x="513.92" y="132.3" font-size="7.8" text-anchor="middle" fill="#1a1a1a">10<tspan font-size="5.3" dy="-3.2">2</tspan></text>
<line x1="520.33" y1="120.4" x2="520.33" y2="121.6" stroke="#222" stroke-width="0.6" />
<line x1="524.07" y1="120.4" x2="524.07" y2="121.6" stroke="#222" stroke-width="0.6" />
<line x1="526.73" y1="120.4" x2="526.73" y2="121.6" stroke="#222" stroke-width="0.6" />
<line x1="528.79" y1="120.4" x2="528.79" y2="121.6" stroke="#222" stroke-width="0.6" />
<line x1="530.48" y1="120.4" x2="530.48" y2="121.6" stroke="#222" stroke-width="0.6" />
<line x1="531.9" y1="120.4" x2="531.9" y2="121.6" stroke="#222" stroke-width="0.6" />
<line x1="533.14" y1="120.4" x2="533.14" y2="121.6" stroke="#222" stroke-width="0.6" />
<line x1="534.23" y1="120.4" x2="534.23" y2="121.6" stroke="#222" stroke-width="0.6" />
<line x1="535.2" y1="120.4" x2="535.2" y2="122.6" stroke="#222" stroke-width="0.85" />
<text x="535.2" y="132.3" font-size="7.8" text-anchor="middle" fill="#1a1a1a">10<tspan font-size="5.3" dy="-3.2">3</tspan></text>
<line x1="541.61" y1="120.4" x2="541.61" y2="121.6" stroke="#222" stroke-width="0.6" />
<line x1="545.35" y1="120.4" x2="545.35" y2="121.6" stroke="#222" stroke-width="0.6" />
<line x1="548.01" y1="120.4" x2="548.01" y2="121.6" stroke="#222" stroke-width="0.6" />
<circle cx="453.9" cy="65.3" r="1.55" fill="#fff" stroke="#a8a8a8" stroke-width="1.22"/>
<circle cx="457.52" cy="65.3" r="1.55" fill="#fff" stroke="#a8a8a8" stroke-width="1.22"/>
<circle cx="461.14" cy="65.3" r="1.55" fill="#fff" stroke="#a8a8a8" stroke-width="1.22"/>
<circle cx="464.77" cy="65.3" r="1.55" fill="#fff" stroke="#a8a8a8" stroke-width="1.22"/>
<circle cx="468.39" cy="65.3" r="1.55" fill="#fff" stroke="#a8a8a8" stroke-width="1.22"/>
<circle cx="472.01" cy="65.3" r="1.55" fill="#fff" stroke="#a8a8a8" stroke-width="1.22"/>
<circle cx="475.63" cy="65.3" r="1.55" fill="#fff" stroke="#a8a8a8" stroke-width="1.22"/>
<circle cx="479.26" cy="65.3" r="1.55" fill="#fff" stroke="#a8a8a8" stroke-width="1.22"/>
<circle cx="482.88" cy="65.3" r="1.55" fill="#fff" stroke="#a8a8a8" stroke-width="1.22"/>
<circle cx="486.5" cy="65.3" r="1.55" fill="#fff" stroke="#a8a8a8" stroke-width="1.22"/>
<circle cx="490" cy="65.8" r="1.55" fill="#fff" stroke="#a8a8a8" stroke-width="1.22"/>
<circle cx="493.4" cy="67.2" r="1.55" fill="#fff" stroke="#a8a8a8" stroke-width="1.22"/>
<circle cx="496.5" cy="69.6" r="1.55" fill="#fff" stroke="#a8a8a8" stroke-width="1.22"/>
<circle cx="499.4" cy="72.5" r="1.55" fill="#fff" stroke="#a8a8a8" stroke-width="1.22"/>
<circle cx="501.8" cy="75.5" r="1.55" fill="#fff" stroke="#a8a8a8" stroke-width="1.22"/>
<circle cx="504" cy="77.9" r="1.55" fill="#fff" stroke="#a8a8a8" stroke-width="1.22"/>
<circle cx="507.6" cy="80.4" r="1.55" fill="#fff" stroke="#a8a8a8" stroke-width="1.22"/>
<circle cx="453.9" cy="59.5" r="1.55" fill="#fff" stroke="#6e6e6e" stroke-width="1.22"/>
<circle cx="457.51" cy="59.5" r="1.55" fill="#fff" stroke="#6e6e6e" stroke-width="1.22"/>
<circle cx="461.12" cy="59.5" r="1.55" fill="#fff" stroke="#6e6e6e" stroke-width="1.22"/>
<circle cx="464.74" cy="59.5" r="1.55" fill="#fff" stroke="#6e6e6e" stroke-width="1.22"/>
<circle cx="468.35" cy="59.5" r="1.55" fill="#fff" stroke="#6e6e6e" stroke-width="1.22"/>
<circle cx="471.96" cy="59.5" r="1.55" fill="#fff" stroke="#6e6e6e" stroke-width="1.22"/>
<circle cx="475.57" cy="59.5" r="1.55" fill="#fff" stroke="#6e6e6e" stroke-width="1.22"/>
<circle cx="479.19" cy="59.5" r="1.55" fill="#fff" stroke="#6e6e6e" stroke-width="1.22"/>
<circle cx="482.8" cy="59.5" r="1.55" fill="#fff" stroke="#6e6e6e" stroke-width="1.22"/>
<circle cx="486" cy="60.6" r="1.55" fill="#fff" stroke="#6e6e6e" stroke-width="1.22"/>
<circle cx="488.6" cy="63.1" r="1.55" fill="#fff" stroke="#6e6e6e" stroke-width="1.22"/>
<circle cx="491.5" cy="66.8" r="1.55" fill="#fff" stroke="#6e6e6e" stroke-width="1.22"/>
<circle cx="494.5" cy="70.4" r="1.55" fill="#fff" stroke="#6e6e6e" stroke-width="1.22"/>
<circle cx="497.2" cy="74.1" r="1.55" fill="#fff" stroke="#6e6e6e" stroke-width="1.22"/>
<circle cx="499.2" cy="77.7" r="1.55" fill="#fff" stroke="#6e6e6e" stroke-width="1.22"/>
<circle cx="500.8" cy="81.4" r="1.55" fill="#fff" stroke="#6e6e6e" stroke-width="1.22"/>
<circle cx="502.5" cy="85" r="1.55" fill="#fff" stroke="#6e6e6e" stroke-width="1.22"/>
<circle cx="504.2" cy="88.7" r="1.55" fill="#fff" stroke="#6e6e6e" stroke-width="1.22"/>
<circle cx="506.1" cy="92.3" r="1.55" fill="#fff" stroke="#6e6e6e" stroke-width="1.22"/>
<circle cx="507.8" cy="94.8" r="1.55" fill="#fff" stroke="#6e6e6e" stroke-width="1.22"/>
<circle cx="500.9" cy="26.4" r="1.55" fill="#fff" stroke="#111" stroke-width="1.35"/>
<circle cx="504.5" cy="26.4" r="1.55" fill="#fff" stroke="#111" stroke-width="1.35"/>
<circle cx="508.1" cy="26.4" r="1.55" fill="#fff" stroke="#111" stroke-width="1.35"/>
<circle cx="511.7" cy="26.4" r="1.55" fill="#fff" stroke="#111" stroke-width="1.35"/>
<circle cx="515.3" cy="26.5" r="1.55" fill="#fff" stroke="#111" stroke-width="1.35"/>
<circle cx="518.9" cy="26.6" r="1.55" fill="#fff" stroke="#111" stroke-width="1.35"/>
<circle cx="522.3" cy="26.9" r="1.55" fill="#fff" stroke="#111" stroke-width="1.35"/>
<circle cx="525.3" cy="27.6" r="1.55" fill="#fff" stroke="#111" stroke-width="1.35"/>
<circle cx="527.8" cy="28.8" r="1.55" fill="#fff" stroke="#111" stroke-width="1.35"/>
<circle cx="529.8" cy="31" r="1.55" fill="#fff" stroke="#111" stroke-width="1.35"/>
<circle cx="531.2" cy="35" r="1.55" fill="#fff" stroke="#111" stroke-width="1.35"/>
<circle cx="531.5" cy="40" r="1.55" fill="#fff" stroke="#111" stroke-width="1.35"/>
<circle cx="531" cy="45" r="1.55" fill="#fff" stroke="#111" stroke-width="1.35"/>
<circle cx="530.5" cy="49.5" r="1.55" fill="#fff" stroke="#111" stroke-width="1.35"/>
<circle cx="530.3" cy="53.5" r="1.55" fill="#fff" stroke="#111" stroke-width="1.35"/>
<circle cx="530.8" cy="58" r="1.55" fill="#fff" stroke="#111" stroke-width="1.35"/>
<circle cx="531.5" cy="62.5" r="1.55" fill="#fff" stroke="#111" stroke-width="1.35"/>
<circle cx="534.2" cy="66.2" r="1.55" fill="#fff" stroke="#111" stroke-width="1.35"/>
<circle cx="500.9" cy="36.1" r="1.55" fill="#fff" stroke="#858585" stroke-width="1.22"/>
<circle cx="504.5" cy="36.1" r="1.55" fill="#fff" stroke="#858585" stroke-width="1.22"/>
<circle cx="508.1" cy="36.1" r="1.55" fill="#fff" stroke="#858585" stroke-width="1.22"/>
<circle cx="511.7" cy="36.1" r="1.55" fill="#fff" stroke="#858585" stroke-width="1.22"/>
<circle cx="515.3" cy="36.1" r="1.55" fill="#fff" stroke="#858585" stroke-width="1.22"/>
<circle cx="518.9" cy="36" r="1.55" fill="#fff" stroke="#858585" stroke-width="1.22"/>
<circle cx="522.3" cy="35.7" r="1.55" fill="#fff" stroke="#858585" stroke-width="1.22"/>
<circle cx="525.3" cy="35" r="1.55" fill="#fff" stroke="#858585" stroke-width="1.22"/>
<circle cx="528.2" cy="33.8" r="1.55" fill="#fff" stroke="#858585" stroke-width="1.22"/>
<circle cx="531" cy="33" r="1.55" fill="#fff" stroke="#858585" stroke-width="1.22"/>
<circle cx="531.6" cy="35.5" r="1.55" fill="#fff" stroke="#858585" stroke-width="1.22"/>
<circle cx="531" cy="39.8" r="1.55" fill="#fff" stroke="#858585" stroke-width="1.22"/>
<circle cx="530.2" cy="44.5" r="1.55" fill="#fff" stroke="#858585" stroke-width="1.22"/>
<circle cx="530" cy="48.7" r="1.55" fill="#fff" stroke="#858585" stroke-width="1.22"/>
<circle cx="530.6" cy="52.6" r="1.55" fill="#fff" stroke="#858585" stroke-width="1.22"/>
<circle cx="531.3" cy="56.5" r="1.55" fill="#fff" stroke="#858585" stroke-width="1.22"/>
<circle cx="532.5" cy="59.5" r="1.55" fill="#fff" stroke="#858585" stroke-width="1.22"/>
<circle cx="535" cy="60.3" r="1.55" fill="#fff" stroke="#858585" stroke-width="1.22"/>
<line x1="425.1" y1="27.6" x2="436.1" y2="27.6" stroke="#111" stroke-width="0.9" />
<circle cx="430.8" cy="27.6" r="1.75" fill="#fff" stroke="#111" stroke-width="1.35"/>
<text x="438.3" y="30" font-size="7.6" fill="#1a1a1a"><tspan font-style="italic">G</tspan><tspan dx="0.3">&#8242;</tspan><tspan font-size="5.6" dx="0.9" dy="1.9">ink</tspan></text>
<line x1="425.1" y1="39.9" x2="436.1" y2="39.9" stroke="#858585" stroke-width="0.9" />
<circle cx="430.8" cy="39.9" r="1.75" fill="#fff" stroke="#858585" stroke-width="1.22"/>
<text x="438.3" y="42.3" font-size="7.6" fill="#1a1a1a"><tspan font-style="italic">G</tspan><tspan dx="0.3">&#8243;</tspan><tspan font-size="5.6" dx="0.9" dy="1.9">ink</tspan></text>
<line x1="461.1" y1="27.6" x2="472.1" y2="27.6" stroke="#6e6e6e" stroke-width="0.9" />
<circle cx="466.8" cy="27.6" r="1.75" fill="#fff" stroke="#6e6e6e" stroke-width="1.22"/>
<text x="474.3" y="30" font-size="7.6" fill="#1a1a1a"><tspan font-style="italic">G</tspan><tspan dx="0.3">&#8242;</tspan><tspan font-size="5.6" dx="0.9" dy="1.9">bath</tspan></text>
<line x1="461.1" y1="39.9" x2="472.1" y2="39.9" stroke="#a8a8a8" stroke-width="0.9" />
<circle cx="466.8" cy="39.9" r="1.75" fill="#fff" stroke="#a8a8a8" stroke-width="1.22"/>
<text x="474.3" y="42.3" font-size="7.6" fill="#1a1a1a"><tspan font-style="italic">G</tspan><tspan dx="0.3">&#8243;</tspan><tspan font-size="5.6" dx="0.9" dy="1.9">bath</tspan></text>
<text x="482.6" y="145" font-size="8.2" text-anchor="middle" fill="#1a1a1a" >Shear stress (Pa)</text>
<text transform="translate(401,71.7) rotate(-90)" font-size="8.2" text-anchor="middle" fill="#1a1a1a" >Modulus (Pa)</text>
<rect x="422.3" y="185.5" width="127.3" height="103" fill="none" stroke="#222" stroke-width="0.85"/>
<line x1="420.1" y1="288.5" x2="422.3" y2="288.5" stroke="#222" stroke-width="0.85" />
<text x="418.6" y="291.8" font-size="7.8" text-anchor="end" fill="#1a1a1a">10<tspan font-size="5.3" dy="-3.2">-1</tspan></text>
<line x1="421.1" y1="284.07" x2="422.3" y2="284.07" stroke="#222" stroke-width="0.6" />
<line x1="421.1" y1="281.48" x2="422.3" y2="281.48" stroke="#222" stroke-width="0.6" />
<line x1="421.1" y1="279.64" x2="422.3" y2="279.64" stroke="#222" stroke-width="0.6" />
<line x1="421.1" y1="278.22" x2="422.3" y2="278.22" stroke="#222" stroke-width="0.6" />
<line x1="421.1" y1="277.05" x2="422.3" y2="277.05" stroke="#222" stroke-width="0.6" />
<line x1="421.1" y1="276.06" x2="422.3" y2="276.06" stroke="#222" stroke-width="0.6" />
<line x1="421.1" y1="275.21" x2="422.3" y2="275.21" stroke="#222" stroke-width="0.6" />
<line x1="421.1" y1="274.46" x2="422.3" y2="274.46" stroke="#222" stroke-width="0.6" />
<line x1="420.1" y1="273.79" x2="422.3" y2="273.79" stroke="#222" stroke-width="0.85" />
<text x="418.6" y="277.09" font-size="7.8" text-anchor="end" fill="#1a1a1a">10<tspan font-size="5.3" dy="-3.2">0</tspan></text>
<line x1="421.1" y1="269.36" x2="422.3" y2="269.36" stroke="#222" stroke-width="0.6" />
<line x1="421.1" y1="266.77" x2="422.3" y2="266.77" stroke="#222" stroke-width="0.6" />
<line x1="421.1" y1="264.93" x2="422.3" y2="264.93" stroke="#222" stroke-width="0.6" />
<line x1="421.1" y1="263.5" x2="422.3" y2="263.5" stroke="#222" stroke-width="0.6" />
<line x1="421.1" y1="262.34" x2="422.3" y2="262.34" stroke="#222" stroke-width="0.6" />
<line x1="421.1" y1="261.35" x2="422.3" y2="261.35" stroke="#222" stroke-width="0.6" />
<line x1="421.1" y1="260.5" x2="422.3" y2="260.5" stroke="#222" stroke-width="0.6" />
<line x1="421.1" y1="259.74" x2="422.3" y2="259.74" stroke="#222" stroke-width="0.6" />
<line x1="420.1" y1="259.07" x2="422.3" y2="259.07" stroke="#222" stroke-width="0.85" />
<text x="418.6" y="262.37" font-size="7.8" text-anchor="end" fill="#1a1a1a">10<tspan font-size="5.3" dy="-3.2">1</tspan></text>
<line x1="421.1" y1="254.64" x2="422.3" y2="254.64" stroke="#222" stroke-width="0.6" />
<line x1="421.1" y1="252.05" x2="422.3" y2="252.05" stroke="#222" stroke-width="0.6" />
<line x1="421.1" y1="250.21" x2="422.3" y2="250.21" stroke="#222" stroke-width="0.6" />
<line x1="421.1" y1="248.79" x2="422.3" y2="248.79" stroke="#222" stroke-width="0.6" />
<line x1="421.1" y1="247.62" x2="422.3" y2="247.62" stroke="#222" stroke-width="0.6" />
<line x1="421.1" y1="246.64" x2="422.3" y2="246.64" stroke="#222" stroke-width="0.6" />
<line x1="421.1" y1="245.78" x2="422.3" y2="245.78" stroke="#222" stroke-width="0.6" />
<line x1="421.1" y1="245.03" x2="422.3" y2="245.03" stroke="#222" stroke-width="0.6" />
<line x1="420.1" y1="244.36" x2="422.3" y2="244.36" stroke="#222" stroke-width="0.85" />
<text x="418.6" y="247.66" font-size="7.8" text-anchor="end" fill="#1a1a1a">10<tspan font-size="5.3" dy="-3.2">2</tspan></text>
<line x1="421.1" y1="239.93" x2="422.3" y2="239.93" stroke="#222" stroke-width="0.6" />
<line x1="421.1" y1="237.34" x2="422.3" y2="237.34" stroke="#222" stroke-width="0.6" />
<line x1="421.1" y1="235.5" x2="422.3" y2="235.5" stroke="#222" stroke-width="0.6" />
<line x1="421.1" y1="234.07" x2="422.3" y2="234.07" stroke="#222" stroke-width="0.6" />
<line x1="421.1" y1="232.91" x2="422.3" y2="232.91" stroke="#222" stroke-width="0.6" />
<line x1="421.1" y1="231.92" x2="422.3" y2="231.92" stroke="#222" stroke-width="0.6" />
<line x1="421.1" y1="231.07" x2="422.3" y2="231.07" stroke="#222" stroke-width="0.6" />
<line x1="421.1" y1="230.32" x2="422.3" y2="230.32" stroke="#222" stroke-width="0.6" />
<line x1="420.1" y1="229.64" x2="422.3" y2="229.64" stroke="#222" stroke-width="0.85" />
<text x="418.6" y="232.94" font-size="7.8" text-anchor="end" fill="#1a1a1a">10<tspan font-size="5.3" dy="-3.2">3</tspan></text>
<line x1="421.1" y1="225.21" x2="422.3" y2="225.21" stroke="#222" stroke-width="0.6" />
<line x1="421.1" y1="222.62" x2="422.3" y2="222.62" stroke="#222" stroke-width="0.6" />
<line x1="421.1" y1="220.78" x2="422.3" y2="220.78" stroke="#222" stroke-width="0.6" />
<line x1="421.1" y1="219.36" x2="422.3" y2="219.36" stroke="#222" stroke-width="0.6" />
<line x1="421.1" y1="218.19" x2="422.3" y2="218.19" stroke="#222" stroke-width="0.6" />
<line x1="421.1" y1="217.21" x2="422.3" y2="217.21" stroke="#222" stroke-width="0.6" />
<line x1="421.1" y1="216.35" x2="422.3" y2="216.35" stroke="#222" stroke-width="0.6" />
<line x1="421.1" y1="215.6" x2="422.3" y2="215.6" stroke="#222" stroke-width="0.6" />
<line x1="420.1" y1="214.93" x2="422.3" y2="214.93" stroke="#222" stroke-width="0.85" />
<text x="418.6" y="218.23" font-size="7.8" text-anchor="end" fill="#1a1a1a">10<tspan font-size="5.3" dy="-3.2">4</tspan></text>
<line x1="421.1" y1="210.5" x2="422.3" y2="210.5" stroke="#222" stroke-width="0.6" />
<line x1="421.1" y1="207.91" x2="422.3" y2="207.91" stroke="#222" stroke-width="0.6" />
<line x1="421.1" y1="206.07" x2="422.3" y2="206.07" stroke="#222" stroke-width="0.6" />
<line x1="421.1" y1="204.64" x2="422.3" y2="204.64" stroke="#222" stroke-width="0.6" />
<line x1="421.1" y1="203.48" x2="422.3" y2="203.48" stroke="#222" stroke-width="0.6" />
<line x1="421.1" y1="202.49" x2="422.3" y2="202.49" stroke="#222" stroke-width="0.6" />
<line x1="421.1" y1="201.64" x2="422.3" y2="201.64" stroke="#222" stroke-width="0.6" />
<line x1="421.1" y1="200.89" x2="422.3" y2="200.89" stroke="#222" stroke-width="0.6" />
<line x1="420.1" y1="200.21" x2="422.3" y2="200.21" stroke="#222" stroke-width="0.85" />
<text x="418.6" y="203.51" font-size="7.8" text-anchor="end" fill="#1a1a1a">10<tspan font-size="5.3" dy="-3.2">5</tspan></text>
<line x1="421.1" y1="195.78" x2="422.3" y2="195.78" stroke="#222" stroke-width="0.6" />
<line x1="421.1" y1="193.19" x2="422.3" y2="193.19" stroke="#222" stroke-width="0.6" />
<line x1="421.1" y1="191.36" x2="422.3" y2="191.36" stroke="#222" stroke-width="0.6" />
<line x1="421.1" y1="189.93" x2="422.3" y2="189.93" stroke="#222" stroke-width="0.6" />
<line x1="421.1" y1="188.76" x2="422.3" y2="188.76" stroke="#222" stroke-width="0.6" />
<line x1="421.1" y1="187.78" x2="422.3" y2="187.78" stroke="#222" stroke-width="0.6" />
<line x1="421.1" y1="186.93" x2="422.3" y2="186.93" stroke="#222" stroke-width="0.6" />
<line x1="421.1" y1="186.17" x2="422.3" y2="186.17" stroke="#222" stroke-width="0.6" />
<line x1="420.1" y1="185.5" x2="422.3" y2="185.5" stroke="#222" stroke-width="0.85" />
<text x="418.6" y="188.8" font-size="7.8" text-anchor="end" fill="#1a1a1a">10<tspan font-size="5.3" dy="-3.2">6</tspan></text>
<line x1="422.39" y1="288.5" x2="422.39" y2="289.7" stroke="#222" stroke-width="0.6" />
<line x1="424.08" y1="288.5" x2="424.08" y2="289.7" stroke="#222" stroke-width="0.6" />
<line x1="425.5" y1="288.5" x2="425.5" y2="289.7" stroke="#222" stroke-width="0.6" />
<line x1="426.74" y1="288.5" x2="426.74" y2="289.7" stroke="#222" stroke-width="0.6" />
<line x1="427.83" y1="288.5" x2="427.83" y2="289.7" stroke="#222" stroke-width="0.6" />
<line x1="428.8" y1="288.5" x2="428.8" y2="290.7" stroke="#222" stroke-width="0.85" />
<text x="428.8" y="300.4" font-size="7.8" text-anchor="middle" fill="#1a1a1a">10<tspan font-size="5.3" dy="-3.2">-2</tspan></text>
<line x1="435.21" y1="288.5" x2="435.21" y2="289.7" stroke="#222" stroke-width="0.6" />
<line x1="438.95" y1="288.5" x2="438.95" y2="289.7" stroke="#222" stroke-width="0.6" />
<line x1="441.61" y1="288.5" x2="441.61" y2="289.7" stroke="#222" stroke-width="0.6" />
<line x1="443.67" y1="288.5" x2="443.67" y2="289.7" stroke="#222" stroke-width="0.6" />
<line x1="445.36" y1="288.5" x2="445.36" y2="289.7" stroke="#222" stroke-width="0.6" />
<line x1="446.78" y1="288.5" x2="446.78" y2="289.7" stroke="#222" stroke-width="0.6" />
<line x1="448.02" y1="288.5" x2="448.02" y2="289.7" stroke="#222" stroke-width="0.6" />
<line x1="449.11" y1="288.5" x2="449.11" y2="289.7" stroke="#222" stroke-width="0.6" />
<line x1="450.08" y1="288.5" x2="450.08" y2="290.7" stroke="#222" stroke-width="0.85" />
<text x="450.08" y="300.4" font-size="7.8" text-anchor="middle" fill="#1a1a1a">10<tspan font-size="5.3" dy="-3.2">-1</tspan></text>
<line x1="456.49" y1="288.5" x2="456.49" y2="289.7" stroke="#222" stroke-width="0.6" />
<line x1="460.23" y1="288.5" x2="460.23" y2="289.7" stroke="#222" stroke-width="0.6" />
<line x1="462.89" y1="288.5" x2="462.89" y2="289.7" stroke="#222" stroke-width="0.6" />
<line x1="464.95" y1="288.5" x2="464.95" y2="289.7" stroke="#222" stroke-width="0.6" />
<line x1="466.64" y1="288.5" x2="466.64" y2="289.7" stroke="#222" stroke-width="0.6" />
<line x1="468.06" y1="288.5" x2="468.06" y2="289.7" stroke="#222" stroke-width="0.6" />
<line x1="469.3" y1="288.5" x2="469.3" y2="289.7" stroke="#222" stroke-width="0.6" />
<line x1="470.39" y1="288.5" x2="470.39" y2="289.7" stroke="#222" stroke-width="0.6" />
<line x1="471.36" y1="288.5" x2="471.36" y2="290.7" stroke="#222" stroke-width="0.85" />
<text x="471.36" y="300.4" font-size="7.8" text-anchor="middle" fill="#1a1a1a">10<tspan font-size="5.3" dy="-3.2">0</tspan></text>
<line x1="477.77" y1="288.5" x2="477.77" y2="289.7" stroke="#222" stroke-width="0.6" />
<line x1="481.51" y1="288.5" x2="481.51" y2="289.7" stroke="#222" stroke-width="0.6" />
<line x1="484.17" y1="288.5" x2="484.17" y2="289.7" stroke="#222" stroke-width="0.6" />
<line x1="486.23" y1="288.5" x2="486.23" y2="289.7" stroke="#222" stroke-width="0.6" />
<line x1="487.92" y1="288.5" x2="487.92" y2="289.7" stroke="#222" stroke-width="0.6" />
<line x1="489.34" y1="288.5" x2="489.34" y2="289.7" stroke="#222" stroke-width="0.6" />
<line x1="490.58" y1="288.5" x2="490.58" y2="289.7" stroke="#222" stroke-width="0.6" />
<line x1="491.67" y1="288.5" x2="491.67" y2="289.7" stroke="#222" stroke-width="0.6" />
<line x1="492.64" y1="288.5" x2="492.64" y2="290.7" stroke="#222" stroke-width="0.85" />
<text x="492.64" y="300.4" font-size="7.8" text-anchor="middle" fill="#1a1a1a">10<tspan font-size="5.3" dy="-3.2">1</tspan></text>
<line x1="499.05" y1="288.5" x2="499.05" y2="289.7" stroke="#222" stroke-width="0.6" />
<line x1="502.79" y1="288.5" x2="502.79" y2="289.7" stroke="#222" stroke-width="0.6" />
<line x1="505.45" y1="288.5" x2="505.45" y2="289.7" stroke="#222" stroke-width="0.6" />
<line x1="507.51" y1="288.5" x2="507.51" y2="289.7" stroke="#222" stroke-width="0.6" />
<line x1="509.2" y1="288.5" x2="509.2" y2="289.7" stroke="#222" stroke-width="0.6" />
<line x1="510.62" y1="288.5" x2="510.62" y2="289.7" stroke="#222" stroke-width="0.6" />
<line x1="511.86" y1="288.5" x2="511.86" y2="289.7" stroke="#222" stroke-width="0.6" />
<line x1="512.95" y1="288.5" x2="512.95" y2="289.7" stroke="#222" stroke-width="0.6" />
<line x1="513.92" y1="288.5" x2="513.92" y2="290.7" stroke="#222" stroke-width="0.85" />
<text x="513.92" y="300.4" font-size="7.8" text-anchor="middle" fill="#1a1a1a">10<tspan font-size="5.3" dy="-3.2">2</tspan></text>
<line x1="520.33" y1="288.5" x2="520.33" y2="289.7" stroke="#222" stroke-width="0.6" />
<line x1="524.07" y1="288.5" x2="524.07" y2="289.7" stroke="#222" stroke-width="0.6" />
<line x1="526.73" y1="288.5" x2="526.73" y2="289.7" stroke="#222" stroke-width="0.6" />
<line x1="528.79" y1="288.5" x2="528.79" y2="289.7" stroke="#222" stroke-width="0.6" />
<line x1="530.48" y1="288.5" x2="530.48" y2="289.7" stroke="#222" stroke-width="0.6" />
<line x1="531.9" y1="288.5" x2="531.9" y2="289.7" stroke="#222" stroke-width="0.6" />
<line x1="533.14" y1="288.5" x2="533.14" y2="289.7" stroke="#222" stroke-width="0.6" />
<line x1="534.23" y1="288.5" x2="534.23" y2="289.7" stroke="#222" stroke-width="0.6" />
<line x1="535.2" y1="288.5" x2="535.2" y2="290.7" stroke="#222" stroke-width="0.85" />
<text x="535.2" y="300.4" font-size="7.8" text-anchor="middle" fill="#1a1a1a">10<tspan font-size="5.3" dy="-3.2">3</tspan></text>
<line x1="541.61" y1="288.5" x2="541.61" y2="289.7" stroke="#222" stroke-width="0.6" />
<line x1="545.35" y1="288.5" x2="545.35" y2="289.7" stroke="#222" stroke-width="0.6" />
<line x1="548.01" y1="288.5" x2="548.01" y2="289.7" stroke="#222" stroke-width="0.6" />
<circle cx="428.54" cy="251.24" r="1.55" fill="#fff" stroke="#7fb0dc" stroke-width="1.22"/>
<circle cx="432.04" cy="251.81" r="1.55" fill="#fff" stroke="#7fb0dc" stroke-width="1.22"/>
<circle cx="435.54" cy="251.81" r="1.55" fill="#fff" stroke="#7fb0dc" stroke-width="1.22"/>
<circle cx="439.03" cy="251.81" r="1.55" fill="#fff" stroke="#7fb0dc" stroke-width="1.22"/>
<circle cx="442.53" cy="251.81" r="1.55" fill="#fff" stroke="#7fb0dc" stroke-width="1.22"/>
<circle cx="446.03" cy="251.81" r="1.55" fill="#fff" stroke="#7fb0dc" stroke-width="1.22"/>
<circle cx="449.53" cy="251.81" r="1.55" fill="#fff" stroke="#7fb0dc" stroke-width="1.22"/>
<circle cx="453.02" cy="251.81" r="1.55" fill="#fff" stroke="#7fb0dc" stroke-width="1.22"/>
<circle cx="456.52" cy="251.81" r="1.55" fill="#fff" stroke="#7fb0dc" stroke-width="1.22"/>
<circle cx="460.02" cy="251.81" r="1.55" fill="#fff" stroke="#7fb0dc" stroke-width="1.22"/>
<circle cx="463.52" cy="251.81" r="1.55" fill="#fff" stroke="#7fb0dc" stroke-width="1.22"/>
<circle cx="467.01" cy="251.81" r="1.55" fill="#fff" stroke="#7fb0dc" stroke-width="1.22"/>
<circle cx="470.51" cy="251.81" r="1.55" fill="#fff" stroke="#7fb0dc" stroke-width="1.22"/>
<circle cx="474.01" cy="251.81" r="1.55" fill="#fff" stroke="#7fb0dc" stroke-width="1.22"/>
<circle cx="477.51" cy="251.81" r="1.55" fill="#fff" stroke="#7fb0dc" stroke-width="1.22"/>
<circle cx="481" cy="251.81" r="1.55" fill="#fff" stroke="#7fb0dc" stroke-width="1.22"/>
<circle cx="484.5" cy="251.81" r="1.55" fill="#fff" stroke="#7fb0dc" stroke-width="1.22"/>
<circle cx="488" cy="251.81" r="1.55" fill="#fff" stroke="#7fb0dc" stroke-width="1.22"/>
<circle cx="491.5" cy="251.81" r="1.55" fill="#fff" stroke="#7fb0dc" stroke-width="1.22"/>
<circle cx="494.99" cy="251.81" r="1.55" fill="#fff" stroke="#7fb0dc" stroke-width="1.22"/>
<circle cx="498.49" cy="251.81" r="1.55" fill="#fff" stroke="#7fb0dc" stroke-width="1.22"/>
<circle cx="501.99" cy="251.81" r="1.55" fill="#fff" stroke="#7fb0dc" stroke-width="1.22"/>
<circle cx="428.54" cy="269.46" r="1.55" fill="#fff" stroke="#2e7bc4" stroke-width="1.35"/>
<circle cx="431.39" cy="265.66" r="1.55" fill="#fff" stroke="#2e7bc4" stroke-width="1.35"/>
<circle cx="434.8" cy="264.33" r="1.55" fill="#fff" stroke="#2e7bc4" stroke-width="1.35"/>
<circle cx="438.41" cy="265.66" r="1.55" fill="#fff" stroke="#2e7bc4" stroke-width="1.35"/>
<circle cx="441.83" cy="266.99" r="1.55" fill="#fff" stroke="#2e7bc4" stroke-width="1.35"/>
<circle cx="445.24" cy="270.41" r="1.55" fill="#fff" stroke="#2e7bc4" stroke-width="1.35"/>
<circle cx="448.85" cy="271.35" r="1.55" fill="#fff" stroke="#2e7bc4" stroke-width="1.35"/>
<circle cx="452.26" cy="272.3" r="1.55" fill="#fff" stroke="#2e7bc4" stroke-width="1.35"/>
<circle cx="456.06" cy="272.3" r="1.55" fill="#fff" stroke="#2e7bc4" stroke-width="1.35"/>
<circle cx="459.48" cy="270.41" r="1.55" fill="#fff" stroke="#2e7bc4" stroke-width="1.35"/>
<circle cx="463.27" cy="270.03" r="1.55" fill="#fff" stroke="#2e7bc4" stroke-width="1.35"/>
<circle cx="466.5" cy="271.35" r="1.55" fill="#fff" stroke="#2e7bc4" stroke-width="1.35"/>
<circle cx="470.29" cy="271.35" r="1.55" fill="#fff" stroke="#2e7bc4" stroke-width="1.35"/>
<circle cx="474.09" cy="270.78" r="1.55" fill="#fff" stroke="#2e7bc4" stroke-width="1.35"/>
<circle cx="477.32" cy="271.35" r="1.55" fill="#fff" stroke="#2e7bc4" stroke-width="1.35"/>
<circle cx="481.11" cy="271.35" r="1.55" fill="#fff" stroke="#2e7bc4" stroke-width="1.35"/>
<circle cx="484.53" cy="271.92" r="1.55" fill="#fff" stroke="#2e7bc4" stroke-width="1.35"/>
<circle cx="487.94" cy="271.92" r="1.55" fill="#fff" stroke="#2e7bc4" stroke-width="1.35"/>
<circle cx="491.55" cy="272.3" r="1.55" fill="#fff" stroke="#2e7bc4" stroke-width="1.35"/>
<circle cx="494.97" cy="272.68" r="1.55" fill="#fff" stroke="#2e7bc4" stroke-width="1.35"/>
<circle cx="498.38" cy="273.25" r="1.55" fill="#fff" stroke="#2e7bc4" stroke-width="1.35"/>
<circle cx="501.99" cy="273.82" r="1.55" fill="#fff" stroke="#2e7bc4" stroke-width="1.35"/>
<circle cx="475.04" cy="212.52" r="1.55" fill="#fff" stroke="#111" stroke-width="1.35"/>
<circle cx="478.64" cy="212.52" r="1.55" fill="#fff" stroke="#111" stroke-width="1.35"/>
<circle cx="482.25" cy="212.71" r="1.55" fill="#fff" stroke="#111" stroke-width="1.35"/>
<circle cx="485.86" cy="212.71" r="1.55" fill="#fff" stroke="#111" stroke-width="1.35"/>
<circle cx="489.46" cy="212.9" r="1.55" fill="#fff" stroke="#111" stroke-width="1.35"/>
<circle cx="493.07" cy="213.09" r="1.55" fill="#fff" stroke="#111" stroke-width="1.35"/>
<circle cx="496.67" cy="213.47" r="1.55" fill="#fff" stroke="#111" stroke-width="1.35"/>
<circle cx="500.28" cy="213.85" r="1.55" fill="#fff" stroke="#111" stroke-width="1.35"/>
<circle cx="503.89" cy="214.42" r="1.55" fill="#fff" stroke="#111" stroke-width="1.35"/>
<circle cx="507.49" cy="214.99" r="1.55" fill="#fff" stroke="#111" stroke-width="1.35"/>
<circle cx="511.1" cy="215.94" r="1.55" fill="#fff" stroke="#111" stroke-width="1.35"/>
<circle cx="514.33" cy="217.26" r="1.55" fill="#fff" stroke="#111" stroke-width="1.35"/>
<circle cx="517.17" cy="218.78" r="1.55" fill="#fff" stroke="#111" stroke-width="1.35"/>
<circle cx="519.83" cy="220.68" r="1.55" fill="#fff" stroke="#111" stroke-width="1.35"/>
<circle cx="522.11" cy="222.96" r="1.55" fill="#fff" stroke="#111" stroke-width="1.35"/>
<circle cx="524" cy="225.8" r="1.55" fill="#fff" stroke="#111" stroke-width="1.35"/>
<circle cx="525.71" cy="229.6" r="1.55" fill="#fff" stroke="#111" stroke-width="1.35"/>
<circle cx="527.42" cy="233.97" r="1.55" fill="#fff" stroke="#111" stroke-width="1.35"/>
<circle cx="528.18" cy="240.42" r="1.55" fill="#fff" stroke="#111" stroke-width="1.35"/>
<circle cx="475.04" cy="223.91" r="1.55" fill="#fff" stroke="#858585" stroke-width="1.22"/>
<circle cx="478.64" cy="223.91" r="1.55" fill="#fff" stroke="#858585" stroke-width="1.22"/>
<circle cx="482.25" cy="223.91" r="1.55" fill="#fff" stroke="#858585" stroke-width="1.22"/>
<circle cx="485.86" cy="223.91" r="1.55" fill="#fff" stroke="#858585" stroke-width="1.22"/>
<circle cx="489.46" cy="223.91" r="1.55" fill="#fff" stroke="#858585" stroke-width="1.22"/>
<circle cx="493.07" cy="223.91" r="1.55" fill="#fff" stroke="#858585" stroke-width="1.22"/>
<circle cx="496.67" cy="223.91" r="1.55" fill="#fff" stroke="#858585" stroke-width="1.22"/>
<circle cx="500.28" cy="223.91" r="1.55" fill="#fff" stroke="#858585" stroke-width="1.22"/>
<circle cx="503.89" cy="223.91" r="1.55" fill="#fff" stroke="#858585" stroke-width="1.22"/>
<circle cx="507.49" cy="223.91" r="1.55" fill="#fff" stroke="#858585" stroke-width="1.22"/>
<circle cx="511.1" cy="224.1" r="1.55" fill="#fff" stroke="#858585" stroke-width="1.22"/>
<circle cx="514.52" cy="224.29" r="1.55" fill="#fff" stroke="#858585" stroke-width="1.22"/>
<circle cx="517.55" cy="224.86" r="1.55" fill="#fff" stroke="#858585" stroke-width="1.22"/>
<circle cx="520.02" cy="225.99" r="1.55" fill="#fff" stroke="#858585" stroke-width="1.22"/>
<circle cx="521.92" cy="228.27" r="1.55" fill="#fff" stroke="#858585" stroke-width="1.22"/>
<circle cx="523.62" cy="231.12" r="1.55" fill="#fff" stroke="#858585" stroke-width="1.22"/>
<circle cx="525.71" cy="233.4" r="1.55" fill="#fff" stroke="#858585" stroke-width="1.22"/>
<circle cx="528.18" cy="234.72" r="1.55" fill="#fff" stroke="#858585" stroke-width="1.22"/>
<line x1="425.1" y1="192.3" x2="436.1" y2="192.3" stroke="#111" stroke-width="0.9" />
<circle cx="430.8" cy="192.3" r="1.75" fill="#fff" stroke="#111" stroke-width="1.35"/>
<text x="438.3" y="194.7" font-size="7.6" fill="#1a1a1a"><tspan font-style="italic">G</tspan><tspan dx="0.3">&#8242;</tspan><tspan font-size="5.6" dx="0.9" dy="1.9">ink</tspan></text>
<line x1="425.1" y1="204.6" x2="436.1" y2="204.6" stroke="#858585" stroke-width="0.9" />
<circle cx="430.8" cy="204.6" r="1.75" fill="#fff" stroke="#858585" stroke-width="1.22"/>
<text x="438.3" y="207" font-size="7.6" fill="#1a1a1a"><tspan font-style="italic">G</tspan><tspan dx="0.3">&#8243;</tspan><tspan font-size="5.6" dx="0.9" dy="1.9">ink</tspan></text>
<line x1="461.9" y1="192.3" x2="472.9" y2="192.3" stroke="#2e7bc4" stroke-width="0.9" />
<circle cx="467.6" cy="192.3" r="1.75" fill="#fff" stroke="#2e7bc4" stroke-width="1.35"/>
<text x="475.1" y="194.7" font-size="7.6" fill="#1a1a1a"><tspan font-style="italic">G</tspan><tspan dx="0.3">&#8242;</tspan><tspan font-size="5.6" dx="0.9" dy="1.9">bath</tspan></text>
<line x1="461.9" y1="204.6" x2="472.9" y2="204.6" stroke="#7fb0dc" stroke-width="0.9" />
<circle cx="467.6" cy="204.6" r="1.75" fill="#fff" stroke="#7fb0dc" stroke-width="1.22"/>
<text x="475.1" y="207" font-size="7.6" fill="#1a1a1a"><tspan font-style="italic">G</tspan><tspan dx="0.3">&#8243;</tspan><tspan font-size="5.6" dx="0.9" dy="1.9">bath</tspan></text>
<text x="482.6" y="313" font-size="8.2" text-anchor="middle" fill="#1a1a1a" >Shear stress (Pa)</text>
<text transform="translate(401,239.4) rotate(-90)" font-size="8.2" text-anchor="middle" fill="#1a1a1a" >Modulus (Pa)</text>
<rect x="422.3" y="349.5" width="127.3" height="101.5" fill="none" stroke="#222" stroke-width="0.85"/>
<line x1="420.1" y1="451" x2="422.3" y2="451" stroke="#222" stroke-width="0.85" />
<text x="418.6" y="454.3" font-size="7.8" text-anchor="end" fill="#1a1a1a">10<tspan font-size="5.3" dy="-3.2">-1</tspan></text>
<line x1="421.1" y1="446.64" x2="422.3" y2="446.64" stroke="#222" stroke-width="0.6" />
<line x1="421.1" y1="444.08" x2="422.3" y2="444.08" stroke="#222" stroke-width="0.6" />
<line x1="421.1" y1="442.27" x2="422.3" y2="442.27" stroke="#222" stroke-width="0.6" />
<line x1="421.1" y1="440.86" x2="422.3" y2="440.86" stroke="#222" stroke-width="0.6" />
<line x1="421.1" y1="439.72" x2="422.3" y2="439.72" stroke="#222" stroke-width="0.6" />
<line x1="421.1" y1="438.75" x2="422.3" y2="438.75" stroke="#222" stroke-width="0.6" />
<line x1="421.1" y1="437.91" x2="422.3" y2="437.91" stroke="#222" stroke-width="0.6" />
<line x1="421.1" y1="437.16" x2="422.3" y2="437.16" stroke="#222" stroke-width="0.6" />
<line x1="420.1" y1="436.5" x2="422.3" y2="436.5" stroke="#222" stroke-width="0.85" />
<text x="418.6" y="439.8" font-size="7.8" text-anchor="end" fill="#1a1a1a">10<tspan font-size="5.3" dy="-3.2">0</tspan></text>
<line x1="421.1" y1="432.14" x2="422.3" y2="432.14" stroke="#222" stroke-width="0.6" />
<line x1="421.1" y1="429.58" x2="422.3" y2="429.58" stroke="#222" stroke-width="0.6" />
<line x1="421.1" y1="427.77" x2="422.3" y2="427.77" stroke="#222" stroke-width="0.6" />
<line x1="421.1" y1="426.36" x2="422.3" y2="426.36" stroke="#222" stroke-width="0.6" />
<line x1="421.1" y1="425.22" x2="422.3" y2="425.22" stroke="#222" stroke-width="0.6" />
<line x1="421.1" y1="424.25" x2="422.3" y2="424.25" stroke="#222" stroke-width="0.6" />
<line x1="421.1" y1="423.41" x2="422.3" y2="423.41" stroke="#222" stroke-width="0.6" />
<line x1="421.1" y1="422.66" x2="422.3" y2="422.66" stroke="#222" stroke-width="0.6" />
<line x1="420.1" y1="422" x2="422.3" y2="422" stroke="#222" stroke-width="0.85" />
<text x="418.6" y="425.3" font-size="7.8" text-anchor="end" fill="#1a1a1a">10<tspan font-size="5.3" dy="-3.2">1</tspan></text>
<line x1="421.1" y1="417.64" x2="422.3" y2="417.64" stroke="#222" stroke-width="0.6" />
<line x1="421.1" y1="415.08" x2="422.3" y2="415.08" stroke="#222" stroke-width="0.6" />
<line x1="421.1" y1="413.27" x2="422.3" y2="413.27" stroke="#222" stroke-width="0.6" />
<line x1="421.1" y1="411.86" x2="422.3" y2="411.86" stroke="#222" stroke-width="0.6" />
<line x1="421.1" y1="410.72" x2="422.3" y2="410.72" stroke="#222" stroke-width="0.6" />
<line x1="421.1" y1="409.75" x2="422.3" y2="409.75" stroke="#222" stroke-width="0.6" />
<line x1="421.1" y1="408.91" x2="422.3" y2="408.91" stroke="#222" stroke-width="0.6" />
<line x1="421.1" y1="408.16" x2="422.3" y2="408.16" stroke="#222" stroke-width="0.6" />
<line x1="420.1" y1="407.5" x2="422.3" y2="407.5" stroke="#222" stroke-width="0.85" />
<text x="418.6" y="410.8" font-size="7.8" text-anchor="end" fill="#1a1a1a">10<tspan font-size="5.3" dy="-3.2">2</tspan></text>
<line x1="421.1" y1="403.14" x2="422.3" y2="403.14" stroke="#222" stroke-width="0.6" />
<line x1="421.1" y1="400.58" x2="422.3" y2="400.58" stroke="#222" stroke-width="0.6" />
<line x1="421.1" y1="398.77" x2="422.3" y2="398.77" stroke="#222" stroke-width="0.6" />
<line x1="421.1" y1="397.36" x2="422.3" y2="397.36" stroke="#222" stroke-width="0.6" />
<line x1="421.1" y1="396.22" x2="422.3" y2="396.22" stroke="#222" stroke-width="0.6" />
<line x1="421.1" y1="395.25" x2="422.3" y2="395.25" stroke="#222" stroke-width="0.6" />
<line x1="421.1" y1="394.41" x2="422.3" y2="394.41" stroke="#222" stroke-width="0.6" />
<line x1="421.1" y1="393.66" x2="422.3" y2="393.66" stroke="#222" stroke-width="0.6" />
<line x1="420.1" y1="393" x2="422.3" y2="393" stroke="#222" stroke-width="0.85" />
<text x="418.6" y="396.3" font-size="7.8" text-anchor="end" fill="#1a1a1a">10<tspan font-size="5.3" dy="-3.2">3</tspan></text>
<line x1="421.1" y1="388.64" x2="422.3" y2="388.64" stroke="#222" stroke-width="0.6" />
<line x1="421.1" y1="386.08" x2="422.3" y2="386.08" stroke="#222" stroke-width="0.6" />
<line x1="421.1" y1="384.27" x2="422.3" y2="384.27" stroke="#222" stroke-width="0.6" />
<line x1="421.1" y1="382.86" x2="422.3" y2="382.86" stroke="#222" stroke-width="0.6" />
<line x1="421.1" y1="381.72" x2="422.3" y2="381.72" stroke="#222" stroke-width="0.6" />
<line x1="421.1" y1="380.75" x2="422.3" y2="380.75" stroke="#222" stroke-width="0.6" />
<line x1="421.1" y1="379.91" x2="422.3" y2="379.91" stroke="#222" stroke-width="0.6" />
<line x1="421.1" y1="379.16" x2="422.3" y2="379.16" stroke="#222" stroke-width="0.6" />
<line x1="420.1" y1="378.5" x2="422.3" y2="378.5" stroke="#222" stroke-width="0.85" />
<text x="418.6" y="381.8" font-size="7.8" text-anchor="end" fill="#1a1a1a">10<tspan font-size="5.3" dy="-3.2">4</tspan></text>
<line x1="421.1" y1="374.14" x2="422.3" y2="374.14" stroke="#222" stroke-width="0.6" />
<line x1="421.1" y1="371.58" x2="422.3" y2="371.58" stroke="#222" stroke-width="0.6" />
<line x1="421.1" y1="369.77" x2="422.3" y2="369.77" stroke="#222" stroke-width="0.6" />
<line x1="421.1" y1="368.36" x2="422.3" y2="368.36" stroke="#222" stroke-width="0.6" />
<line x1="421.1" y1="367.22" x2="422.3" y2="367.22" stroke="#222" stroke-width="0.6" />
<line x1="421.1" y1="366.25" x2="422.3" y2="366.25" stroke="#222" stroke-width="0.6" />
<line x1="421.1" y1="365.41" x2="422.3" y2="365.41" stroke="#222" stroke-width="0.6" />
<line x1="421.1" y1="364.66" x2="422.3" y2="364.66" stroke="#222" stroke-width="0.6" />
<line x1="420.1" y1="364" x2="422.3" y2="364" stroke="#222" stroke-width="0.85" />
<text x="418.6" y="367.3" font-size="7.8" text-anchor="end" fill="#1a1a1a">10<tspan font-size="5.3" dy="-3.2">5</tspan></text>
<line x1="421.1" y1="359.64" x2="422.3" y2="359.64" stroke="#222" stroke-width="0.6" />
<line x1="421.1" y1="357.08" x2="422.3" y2="357.08" stroke="#222" stroke-width="0.6" />
<line x1="421.1" y1="355.27" x2="422.3" y2="355.27" stroke="#222" stroke-width="0.6" />
<line x1="421.1" y1="353.86" x2="422.3" y2="353.86" stroke="#222" stroke-width="0.6" />
<line x1="421.1" y1="352.72" x2="422.3" y2="352.72" stroke="#222" stroke-width="0.6" />
<line x1="421.1" y1="351.75" x2="422.3" y2="351.75" stroke="#222" stroke-width="0.6" />
<line x1="421.1" y1="350.91" x2="422.3" y2="350.91" stroke="#222" stroke-width="0.6" />
<line x1="421.1" y1="350.16" x2="422.3" y2="350.16" stroke="#222" stroke-width="0.6" />
<line x1="420.1" y1="349.5" x2="422.3" y2="349.5" stroke="#222" stroke-width="0.85" />
<text x="418.6" y="352.8" font-size="7.8" text-anchor="end" fill="#1a1a1a">10<tspan font-size="5.3" dy="-3.2">6</tspan></text>
<line x1="422.39" y1="451" x2="422.39" y2="452.2" stroke="#222" stroke-width="0.6" />
<line x1="424.08" y1="451" x2="424.08" y2="452.2" stroke="#222" stroke-width="0.6" />
<line x1="425.5" y1="451" x2="425.5" y2="452.2" stroke="#222" stroke-width="0.6" />
<line x1="426.74" y1="451" x2="426.74" y2="452.2" stroke="#222" stroke-width="0.6" />
<line x1="427.83" y1="451" x2="427.83" y2="452.2" stroke="#222" stroke-width="0.6" />
<line x1="428.8" y1="451" x2="428.8" y2="453.2" stroke="#222" stroke-width="0.85" />
<text x="428.8" y="462.9" font-size="7.8" text-anchor="middle" fill="#1a1a1a">10<tspan font-size="5.3" dy="-3.2">-2</tspan></text>
<line x1="435.21" y1="451" x2="435.21" y2="452.2" stroke="#222" stroke-width="0.6" />
<line x1="438.95" y1="451" x2="438.95" y2="452.2" stroke="#222" stroke-width="0.6" />
<line x1="441.61" y1="451" x2="441.61" y2="452.2" stroke="#222" stroke-width="0.6" />
<line x1="443.67" y1="451" x2="443.67" y2="452.2" stroke="#222" stroke-width="0.6" />
<line x1="445.36" y1="451" x2="445.36" y2="452.2" stroke="#222" stroke-width="0.6" />
<line x1="446.78" y1="451" x2="446.78" y2="452.2" stroke="#222" stroke-width="0.6" />
<line x1="448.02" y1="451" x2="448.02" y2="452.2" stroke="#222" stroke-width="0.6" />
<line x1="449.11" y1="451" x2="449.11" y2="452.2" stroke="#222" stroke-width="0.6" />
<line x1="450.08" y1="451" x2="450.08" y2="453.2" stroke="#222" stroke-width="0.85" />
<text x="450.08" y="462.9" font-size="7.8" text-anchor="middle" fill="#1a1a1a">10<tspan font-size="5.3" dy="-3.2">-1</tspan></text>
<line x1="456.49" y1="451" x2="456.49" y2="452.2" stroke="#222" stroke-width="0.6" />
<line x1="460.23" y1="451" x2="460.23" y2="452.2" stroke="#222" stroke-width="0.6" />
<line x1="462.89" y1="451" x2="462.89" y2="452.2" stroke="#222" stroke-width="0.6" />
<line x1="464.95" y1="451" x2="464.95" y2="452.2" stroke="#222" stroke-width="0.6" />
<line x1="466.64" y1="451" x2="466.64" y2="452.2" stroke="#222" stroke-width="0.6" />
<line x1="468.06" y1="451" x2="468.06" y2="452.2" stroke="#222" stroke-width="0.6" />
<line x1="469.3" y1="451" x2="469.3" y2="452.2" stroke="#222" stroke-width="0.6" />
<line x1="470.39" y1="451" x2="470.39" y2="452.2" stroke="#222" stroke-width="0.6" />
<line x1="471.36" y1="451" x2="471.36" y2="453.2" stroke="#222" stroke-width="0.85" />
<text x="471.36" y="462.9" font-size="7.8" text-anchor="middle" fill="#1a1a1a">10<tspan font-size="5.3" dy="-3.2">0</tspan></text>
<line x1="477.77" y1="451" x2="477.77" y2="452.2" stroke="#222" stroke-width="0.6" />
<line x1="481.51" y1="451" x2="481.51" y2="452.2" stroke="#222" stroke-width="0.6" />
<line x1="484.17" y1="451" x2="484.17" y2="452.2" stroke="#222" stroke-width="0.6" />
<line x1="486.23" y1="451" x2="486.23" y2="452.2" stroke="#222" stroke-width="0.6" />
<line x1="487.92" y1="451" x2="487.92" y2="452.2" stroke="#222" stroke-width="0.6" />
<line x1="489.34" y1="451" x2="489.34" y2="452.2" stroke="#222" stroke-width="0.6" />
<line x1="490.58" y1="451" x2="490.58" y2="452.2" stroke="#222" stroke-width="0.6" />
<line x1="491.67" y1="451" x2="491.67" y2="452.2" stroke="#222" stroke-width="0.6" />
<line x1="492.64" y1="451" x2="492.64" y2="453.2" stroke="#222" stroke-width="0.85" />
<text x="492.64" y="462.9" font-size="7.8" text-anchor="middle" fill="#1a1a1a">10<tspan font-size="5.3" dy="-3.2">1</tspan></text>
<line x1="499.05" y1="451" x2="499.05" y2="452.2" stroke="#222" stroke-width="0.6" />
<line x1="502.79" y1="451" x2="502.79" y2="452.2" stroke="#222" stroke-width="0.6" />
<line x1="505.45" y1="451" x2="505.45" y2="452.2" stroke="#222" stroke-width="0.6" />
<line x1="507.51" y1="451" x2="507.51" y2="452.2" stroke="#222" stroke-width="0.6" />
<line x1="509.2" y1="451" x2="509.2" y2="452.2" stroke="#222" stroke-width="0.6" />
<line x1="510.62" y1="451" x2="510.62" y2="452.2" stroke="#222" stroke-width="0.6" />
<line x1="511.86" y1="451" x2="511.86" y2="452.2" stroke="#222" stroke-width="0.6" />
<line x1="512.95" y1="451" x2="512.95" y2="452.2" stroke="#222" stroke-width="0.6" />
<line x1="513.92" y1="451" x2="513.92" y2="453.2" stroke="#222" stroke-width="0.85" />
<text x="513.92" y="462.9" font-size="7.8" text-anchor="middle" fill="#1a1a1a">10<tspan font-size="5.3" dy="-3.2">2</tspan></text>
<line x1="520.33" y1="451" x2="520.33" y2="452.2" stroke="#222" stroke-width="0.6" />
<line x1="524.07" y1="451" x2="524.07" y2="452.2" stroke="#222" stroke-width="0.6" />
<line x1="526.73" y1="451" x2="526.73" y2="452.2" stroke="#222" stroke-width="0.6" />
<line x1="528.79" y1="451" x2="528.79" y2="452.2" stroke="#222" stroke-width="0.6" />
<line x1="530.48" y1="451" x2="530.48" y2="452.2" stroke="#222" stroke-width="0.6" />
<line x1="531.9" y1="451" x2="531.9" y2="452.2" stroke="#222" stroke-width="0.6" />
<line x1="533.14" y1="451" x2="533.14" y2="452.2" stroke="#222" stroke-width="0.6" />
<line x1="534.23" y1="451" x2="534.23" y2="452.2" stroke="#222" stroke-width="0.6" />
<line x1="535.2" y1="451" x2="535.2" y2="453.2" stroke="#222" stroke-width="0.85" />
<text x="535.2" y="462.9" font-size="7.8" text-anchor="middle" fill="#1a1a1a">10<tspan font-size="5.3" dy="-3.2">3</tspan></text>
<line x1="541.61" y1="451" x2="541.61" y2="452.2" stroke="#222" stroke-width="0.6" />
<line x1="545.35" y1="451" x2="545.35" y2="452.2" stroke="#222" stroke-width="0.6" />
<line x1="548.01" y1="451" x2="548.01" y2="452.2" stroke="#222" stroke-width="0.6" />
<circle cx="434.02" cy="408.45" r="1.55" fill="#fff" stroke="#8fce5a" stroke-width="1.22"/>
<circle cx="437.5" cy="408.5" r="1.55" fill="#fff" stroke="#8fce5a" stroke-width="1.22"/>
<circle cx="440.99" cy="408.55" r="1.55" fill="#fff" stroke="#8fce5a" stroke-width="1.22"/>
<circle cx="444.47" cy="408.6" r="1.55" fill="#fff" stroke="#8fce5a" stroke-width="1.22"/>
<circle cx="447.96" cy="408.66" r="1.55" fill="#fff" stroke="#8fce5a" stroke-width="1.22"/>
<circle cx="451.45" cy="408.71" r="1.55" fill="#fff" stroke="#8fce5a" stroke-width="1.22"/>
<circle cx="454.93" cy="408.76" r="1.55" fill="#fff" stroke="#8fce5a" stroke-width="1.22"/>
<circle cx="458.42" cy="408.81" r="1.55" fill="#fff" stroke="#8fce5a" stroke-width="1.22"/>
<circle cx="461.91" cy="408.86" r="1.55" fill="#fff" stroke="#8fce5a" stroke-width="1.22"/>
<circle cx="465.39" cy="408.91" r="1.55" fill="#fff" stroke="#8fce5a" stroke-width="1.22"/>
<circle cx="468.88" cy="408.96" r="1.55" fill="#fff" stroke="#8fce5a" stroke-width="1.22"/>
<circle cx="472.36" cy="409.01" r="1.55" fill="#fff" stroke="#8fce5a" stroke-width="1.22"/>
<circle cx="475.85" cy="409.06" r="1.55" fill="#fff" stroke="#8fce5a" stroke-width="1.22"/>
<circle cx="479.34" cy="409.11" r="1.55" fill="#fff" stroke="#8fce5a" stroke-width="1.22"/>
<circle cx="482.82" cy="409.16" r="1.55" fill="#fff" stroke="#8fce5a" stroke-width="1.22"/>
<circle cx="486.31" cy="409.21" r="1.55" fill="#fff" stroke="#8fce5a" stroke-width="1.22"/>
<circle cx="489.8" cy="409.26" r="1.55" fill="#fff" stroke="#8fce5a" stroke-width="1.22"/>
<circle cx="493.28" cy="409.31" r="1.55" fill="#fff" stroke="#8fce5a" stroke-width="1.22"/>
<circle cx="496.77" cy="409.36" r="1.55" fill="#fff" stroke="#8fce5a" stroke-width="1.22"/>
<circle cx="500.26" cy="409.41" r="1.55" fill="#fff" stroke="#8fce5a" stroke-width="1.22"/>
<circle cx="503.74" cy="409.46" r="1.55" fill="#fff" stroke="#8fce5a" stroke-width="1.22"/>
<circle cx="507.23" cy="409.51" r="1.55" fill="#fff" stroke="#8fce5a" stroke-width="1.22"/>
<circle cx="510.71" cy="409.56" r="1.55" fill="#fff" stroke="#8fce5a" stroke-width="1.22"/>
<circle cx="434.02" cy="422.05" r="1.55" fill="#fff" stroke="#34a02c" stroke-width="1.35"/>
<circle cx="437.48" cy="422.74" r="1.55" fill="#fff" stroke="#34a02c" stroke-width="1.35"/>
<circle cx="440.53" cy="421.35" r="1.55" fill="#fff" stroke="#34a02c" stroke-width="1.35"/>
<circle cx="444.42" cy="422.74" r="1.55" fill="#fff" stroke="#34a02c" stroke-width="1.35"/>
<circle cx="447.61" cy="425.51" r="1.55" fill="#fff" stroke="#34a02c" stroke-width="1.35"/>
<circle cx="451.07" cy="424.82" r="1.55" fill="#fff" stroke="#34a02c" stroke-width="1.35"/>
<circle cx="454.54" cy="425.51" r="1.55" fill="#fff" stroke="#34a02c" stroke-width="1.35"/>
<circle cx="458.29" cy="426.9" r="1.55" fill="#fff" stroke="#34a02c" stroke-width="1.35"/>
<circle cx="461.75" cy="426.9" r="1.55" fill="#fff" stroke="#34a02c" stroke-width="1.35"/>
<circle cx="465.22" cy="427.32" r="1.55" fill="#fff" stroke="#34a02c" stroke-width="1.35"/>
<circle cx="468.69" cy="427.32" r="1.55" fill="#fff" stroke="#34a02c" stroke-width="1.35"/>
<circle cx="472.16" cy="427.59" r="1.55" fill="#fff" stroke="#34a02c" stroke-width="1.35"/>
<circle cx="475.62" cy="427.87" r="1.55" fill="#fff" stroke="#34a02c" stroke-width="1.35"/>
<circle cx="479.37" cy="427.87" r="1.55" fill="#fff" stroke="#34a02c" stroke-width="1.35"/>
<circle cx="482.98" cy="428.01" r="1.55" fill="#fff" stroke="#34a02c" stroke-width="1.35"/>
<circle cx="486.44" cy="428.29" r="1.55" fill="#fff" stroke="#34a02c" stroke-width="1.35"/>
<circle cx="489.91" cy="428.29" r="1.55" fill="#fff" stroke="#34a02c" stroke-width="1.35"/>
<circle cx="493.38" cy="428.7" r="1.55" fill="#fff" stroke="#34a02c" stroke-width="1.35"/>
<circle cx="496.84" cy="428.7" r="1.55" fill="#fff" stroke="#34a02c" stroke-width="1.35"/>
<circle cx="500.31" cy="429.26" r="1.55" fill="#fff" stroke="#34a02c" stroke-width="1.35"/>
<circle cx="503.78" cy="429.67" r="1.55" fill="#fff" stroke="#34a02c" stroke-width="1.35"/>
<circle cx="507.11" cy="430.09" r="1.55" fill="#fff" stroke="#34a02c" stroke-width="1.35"/>
<circle cx="510.71" cy="430.78" r="1.55" fill="#fff" stroke="#34a02c" stroke-width="1.35"/>
<circle cx="500.9" cy="357.64" r="1.55" fill="#fff" stroke="#111" stroke-width="1.35"/>
<circle cx="504.5" cy="357.64" r="1.55" fill="#fff" stroke="#111" stroke-width="1.35"/>
<circle cx="508.1" cy="357.64" r="1.55" fill="#fff" stroke="#111" stroke-width="1.35"/>
<circle cx="511.7" cy="357.64" r="1.55" fill="#fff" stroke="#111" stroke-width="1.35"/>
<circle cx="515.3" cy="357.74" r="1.55" fill="#fff" stroke="#111" stroke-width="1.35"/>
<circle cx="518.9" cy="357.84" r="1.55" fill="#fff" stroke="#111" stroke-width="1.35"/>
<circle cx="522.3" cy="358.14" r="1.55" fill="#fff" stroke="#111" stroke-width="1.35"/>
<circle cx="525.3" cy="358.83" r="1.55" fill="#fff" stroke="#111" stroke-width="1.35"/>
<circle cx="527.8" cy="360.03" r="1.55" fill="#fff" stroke="#111" stroke-width="1.35"/>
<circle cx="529.8" cy="362.21" r="1.55" fill="#fff" stroke="#111" stroke-width="1.35"/>
<circle cx="531.2" cy="366.18" r="1.55" fill="#fff" stroke="#111" stroke-width="1.35"/>
<circle cx="531.5" cy="371.15" r="1.55" fill="#fff" stroke="#111" stroke-width="1.35"/>
<circle cx="531" cy="376.11" r="1.55" fill="#fff" stroke="#111" stroke-width="1.35"/>
<circle cx="530.5" cy="380.58" r="1.55" fill="#fff" stroke="#111" stroke-width="1.35"/>
<circle cx="530.3" cy="384.55" r="1.55" fill="#fff" stroke="#111" stroke-width="1.35"/>
<circle cx="530.8" cy="389.02" r="1.55" fill="#fff" stroke="#111" stroke-width="1.35"/>
<circle cx="531.5" cy="393.49" r="1.55" fill="#fff" stroke="#111" stroke-width="1.35"/>
<circle cx="534.2" cy="397.16" r="1.55" fill="#fff" stroke="#111" stroke-width="1.35"/>
<circle cx="500.9" cy="367.27" r="1.55" fill="#fff" stroke="#858585" stroke-width="1.22"/>
<circle cx="504.5" cy="367.27" r="1.55" fill="#fff" stroke="#858585" stroke-width="1.22"/>
<circle cx="508.1" cy="367.27" r="1.55" fill="#fff" stroke="#858585" stroke-width="1.22"/>
<circle cx="511.7" cy="367.27" r="1.55" fill="#fff" stroke="#858585" stroke-width="1.22"/>
<circle cx="515.3" cy="367.27" r="1.55" fill="#fff" stroke="#858585" stroke-width="1.22"/>
<circle cx="518.9" cy="367.18" r="1.55" fill="#fff" stroke="#858585" stroke-width="1.22"/>
<circle cx="522.3" cy="366.88" r="1.55" fill="#fff" stroke="#858585" stroke-width="1.22"/>
<circle cx="525.3" cy="366.18" r="1.55" fill="#fff" stroke="#858585" stroke-width="1.22"/>
<circle cx="528.2" cy="364.99" r="1.55" fill="#fff" stroke="#858585" stroke-width="1.22"/>
<circle cx="531" cy="364.2" r="1.55" fill="#fff" stroke="#858585" stroke-width="1.22"/>
<circle cx="531.6" cy="366.68" r="1.55" fill="#fff" stroke="#858585" stroke-width="1.22"/>
<circle cx="531" cy="370.95" r="1.55" fill="#fff" stroke="#858585" stroke-width="1.22"/>
<circle cx="530.2" cy="375.62" r="1.55" fill="#fff" stroke="#858585" stroke-width="1.22"/>
<circle cx="530" cy="379.79" r="1.55" fill="#fff" stroke="#858585" stroke-width="1.22"/>
<circle cx="530.6" cy="383.66" r="1.55" fill="#fff" stroke="#858585" stroke-width="1.22"/>
<circle cx="531.3" cy="387.53" r="1.55" fill="#fff" stroke="#858585" stroke-width="1.22"/>
<circle cx="532.5" cy="390.51" r="1.55" fill="#fff" stroke="#858585" stroke-width="1.22"/>
<circle cx="535" cy="391.31" r="1.55" fill="#fff" stroke="#858585" stroke-width="1.22"/>
<line x1="425.1" y1="358.4" x2="436.1" y2="358.4" stroke="#111" stroke-width="0.9" />
<circle cx="430.8" cy="358.4" r="1.75" fill="#fff" stroke="#111" stroke-width="1.35"/>
<text x="438.3" y="360.8" font-size="7.6" fill="#1a1a1a"><tspan font-style="italic">G</tspan><tspan dx="0.3">&#8242;</tspan><tspan font-size="5.6" dx="0.9" dy="1.9">ink</tspan></text>
<line x1="425.1" y1="371.1" x2="436.1" y2="371.1" stroke="#858585" stroke-width="0.9" />
<circle cx="430.8" cy="371.1" r="1.75" fill="#fff" stroke="#858585" stroke-width="1.22"/>
<text x="438.3" y="373.5" font-size="7.6" fill="#1a1a1a"><tspan font-style="italic">G</tspan><tspan dx="0.3">&#8243;</tspan><tspan font-size="5.6" dx="0.9" dy="1.9">ink</tspan></text>
<line x1="460.2" y1="358.4" x2="471.2" y2="358.4" stroke="#34a02c" stroke-width="0.9" />
<circle cx="465.9" cy="358.4" r="1.75" fill="#fff" stroke="#34a02c" stroke-width="1.35"/>
<text x="473.4" y="360.8" font-size="7.6" fill="#1a1a1a"><tspan font-style="italic">G</tspan><tspan dx="0.3">&#8242;</tspan><tspan font-size="5.6" dx="0.9" dy="1.9">bath</tspan></text>
<line x1="460.2" y1="371.1" x2="471.2" y2="371.1" stroke="#8fce5a" stroke-width="0.9" />
<circle cx="465.9" cy="371.1" r="1.75" fill="#fff" stroke="#8fce5a" stroke-width="1.22"/>
<text x="473.4" y="373.5" font-size="7.6" fill="#1a1a1a"><tspan font-style="italic">G</tspan><tspan dx="0.3">&#8243;</tspan><tspan font-size="5.6" dx="0.9" dy="1.9">bath</tspan></text>
<text x="482.6" y="475.6" font-size="8.2" text-anchor="middle" fill="#1a1a1a" >Shear stress (Pa)</text>
<text transform="translate(401,402.65) rotate(-90)" font-size="8.2" text-anchor="middle" fill="#1a1a1a" >Modulus (Pa)</text>
<rect x="422.3" y="512.2" width="127.3" height="103.2" fill="none" stroke="#222" stroke-width="0.85"/>
<line x1="420.1" y1="615.4" x2="422.3" y2="615.4" stroke="#222" stroke-width="0.85" />
<text x="418.6" y="618.7" font-size="7.8" text-anchor="end" fill="#1a1a1a">10<tspan font-size="5.3" dy="-3.2">-1</tspan></text>
<line x1="421.1" y1="610.96" x2="422.3" y2="610.96" stroke="#222" stroke-width="0.6" />
<line x1="421.1" y1="608.37" x2="422.3" y2="608.37" stroke="#222" stroke-width="0.6" />
<line x1="421.1" y1="606.52" x2="422.3" y2="606.52" stroke="#222" stroke-width="0.6" />
<line x1="421.1" y1="605.1" x2="422.3" y2="605.1" stroke="#222" stroke-width="0.6" />
<line x1="421.1" y1="603.93" x2="422.3" y2="603.93" stroke="#222" stroke-width="0.6" />
<line x1="421.1" y1="602.94" x2="422.3" y2="602.94" stroke="#222" stroke-width="0.6" />
<line x1="421.1" y1="602.09" x2="422.3" y2="602.09" stroke="#222" stroke-width="0.6" />
<line x1="421.1" y1="601.33" x2="422.3" y2="601.33" stroke="#222" stroke-width="0.6" />
<line x1="420.1" y1="600.66" x2="422.3" y2="600.66" stroke="#222" stroke-width="0.85" />
<text x="418.6" y="603.96" font-size="7.8" text-anchor="end" fill="#1a1a1a">10<tspan font-size="5.3" dy="-3.2">0</tspan></text>
<line x1="421.1" y1="596.22" x2="422.3" y2="596.22" stroke="#222" stroke-width="0.6" />
<line x1="421.1" y1="593.62" x2="422.3" y2="593.62" stroke="#222" stroke-width="0.6" />
<line x1="421.1" y1="591.78" x2="422.3" y2="591.78" stroke="#222" stroke-width="0.6" />
<line x1="421.1" y1="590.35" x2="422.3" y2="590.35" stroke="#222" stroke-width="0.6" />
<line x1="421.1" y1="589.18" x2="422.3" y2="589.18" stroke="#222" stroke-width="0.6" />
<line x1="421.1" y1="588.2" x2="422.3" y2="588.2" stroke="#222" stroke-width="0.6" />
<line x1="421.1" y1="587.34" x2="422.3" y2="587.34" stroke="#222" stroke-width="0.6" />
<line x1="421.1" y1="586.59" x2="422.3" y2="586.59" stroke="#222" stroke-width="0.6" />
<line x1="420.1" y1="585.91" x2="422.3" y2="585.91" stroke="#222" stroke-width="0.85" />
<text x="418.6" y="589.21" font-size="7.8" text-anchor="end" fill="#1a1a1a">10<tspan font-size="5.3" dy="-3.2">1</tspan></text>
<line x1="421.1" y1="581.48" x2="422.3" y2="581.48" stroke="#222" stroke-width="0.6" />
<line x1="421.1" y1="578.88" x2="422.3" y2="578.88" stroke="#222" stroke-width="0.6" />
<line x1="421.1" y1="577.04" x2="422.3" y2="577.04" stroke="#222" stroke-width="0.6" />
<line x1="421.1" y1="575.61" x2="422.3" y2="575.61" stroke="#222" stroke-width="0.6" />
<line x1="421.1" y1="574.44" x2="422.3" y2="574.44" stroke="#222" stroke-width="0.6" />
<line x1="421.1" y1="573.46" x2="422.3" y2="573.46" stroke="#222" stroke-width="0.6" />
<line x1="421.1" y1="572.6" x2="422.3" y2="572.6" stroke="#222" stroke-width="0.6" />
<line x1="421.1" y1="571.85" x2="422.3" y2="571.85" stroke="#222" stroke-width="0.6" />
<line x1="420.1" y1="571.17" x2="422.3" y2="571.17" stroke="#222" stroke-width="0.85" />
<text x="418.6" y="574.47" font-size="7.8" text-anchor="end" fill="#1a1a1a">10<tspan font-size="5.3" dy="-3.2">2</tspan></text>
<line x1="421.1" y1="566.73" x2="422.3" y2="566.73" stroke="#222" stroke-width="0.6" />
<line x1="421.1" y1="564.14" x2="422.3" y2="564.14" stroke="#222" stroke-width="0.6" />
<line x1="421.1" y1="562.3" x2="422.3" y2="562.3" stroke="#222" stroke-width="0.6" />
<line x1="421.1" y1="560.87" x2="422.3" y2="560.87" stroke="#222" stroke-width="0.6" />
<line x1="421.1" y1="559.7" x2="422.3" y2="559.7" stroke="#222" stroke-width="0.6" />
<line x1="421.1" y1="558.71" x2="422.3" y2="558.71" stroke="#222" stroke-width="0.6" />
<line x1="421.1" y1="557.86" x2="422.3" y2="557.86" stroke="#222" stroke-width="0.6" />
<line x1="421.1" y1="557.1" x2="422.3" y2="557.1" stroke="#222" stroke-width="0.6" />
<line x1="420.1" y1="556.43" x2="422.3" y2="556.43" stroke="#222" stroke-width="0.85" />
<text x="418.6" y="559.73" font-size="7.8" text-anchor="end" fill="#1a1a1a">10<tspan font-size="5.3" dy="-3.2">3</tspan></text>
<line x1="421.1" y1="551.99" x2="422.3" y2="551.99" stroke="#222" stroke-width="0.6" />
<line x1="421.1" y1="549.39" x2="422.3" y2="549.39" stroke="#222" stroke-width="0.6" />
<line x1="421.1" y1="547.55" x2="422.3" y2="547.55" stroke="#222" stroke-width="0.6" />
<line x1="421.1" y1="546.12" x2="422.3" y2="546.12" stroke="#222" stroke-width="0.6" />
<line x1="421.1" y1="544.96" x2="422.3" y2="544.96" stroke="#222" stroke-width="0.6" />
<line x1="421.1" y1="543.97" x2="422.3" y2="543.97" stroke="#222" stroke-width="0.6" />
<line x1="421.1" y1="543.11" x2="422.3" y2="543.11" stroke="#222" stroke-width="0.6" />
<line x1="421.1" y1="542.36" x2="422.3" y2="542.36" stroke="#222" stroke-width="0.6" />
<line x1="420.1" y1="541.69" x2="422.3" y2="541.69" stroke="#222" stroke-width="0.85" />
<text x="418.6" y="544.99" font-size="7.8" text-anchor="end" fill="#1a1a1a">10<tspan font-size="5.3" dy="-3.2">4</tspan></text>
<line x1="421.1" y1="537.25" x2="422.3" y2="537.25" stroke="#222" stroke-width="0.6" />
<line x1="421.1" y1="534.65" x2="422.3" y2="534.65" stroke="#222" stroke-width="0.6" />
<line x1="421.1" y1="532.81" x2="422.3" y2="532.81" stroke="#222" stroke-width="0.6" />
<line x1="421.1" y1="531.38" x2="422.3" y2="531.38" stroke="#222" stroke-width="0.6" />
<line x1="421.1" y1="530.21" x2="422.3" y2="530.21" stroke="#222" stroke-width="0.6" />
<line x1="421.1" y1="529.23" x2="422.3" y2="529.23" stroke="#222" stroke-width="0.6" />
<line x1="421.1" y1="528.37" x2="422.3" y2="528.37" stroke="#222" stroke-width="0.6" />
<line x1="421.1" y1="527.62" x2="422.3" y2="527.62" stroke="#222" stroke-width="0.6" />
<line x1="420.1" y1="526.94" x2="422.3" y2="526.94" stroke="#222" stroke-width="0.85" />
<text x="418.6" y="530.24" font-size="7.8" text-anchor="end" fill="#1a1a1a">10<tspan font-size="5.3" dy="-3.2">5</tspan></text>
<line x1="421.1" y1="522.5" x2="422.3" y2="522.5" stroke="#222" stroke-width="0.6" />
<line x1="421.1" y1="519.91" x2="422.3" y2="519.91" stroke="#222" stroke-width="0.6" />
<line x1="421.1" y1="518.07" x2="422.3" y2="518.07" stroke="#222" stroke-width="0.6" />
<line x1="421.1" y1="516.64" x2="422.3" y2="516.64" stroke="#222" stroke-width="0.6" />
<line x1="421.1" y1="515.47" x2="422.3" y2="515.47" stroke="#222" stroke-width="0.6" />
<line x1="421.1" y1="514.48" x2="422.3" y2="514.48" stroke="#222" stroke-width="0.6" />
<line x1="421.1" y1="513.63" x2="422.3" y2="513.63" stroke="#222" stroke-width="0.6" />
<line x1="421.1" y1="512.87" x2="422.3" y2="512.87" stroke="#222" stroke-width="0.6" />
<line x1="420.1" y1="512.2" x2="422.3" y2="512.2" stroke="#222" stroke-width="0.85" />
<text x="418.6" y="515.5" font-size="7.8" text-anchor="end" fill="#1a1a1a">10<tspan font-size="5.3" dy="-3.2">6</tspan></text>
<line x1="422.39" y1="615.4" x2="422.39" y2="616.6" stroke="#222" stroke-width="0.6" />
<line x1="424.08" y1="615.4" x2="424.08" y2="616.6" stroke="#222" stroke-width="0.6" />
<line x1="425.5" y1="615.4" x2="425.5" y2="616.6" stroke="#222" stroke-width="0.6" />
<line x1="426.74" y1="615.4" x2="426.74" y2="616.6" stroke="#222" stroke-width="0.6" />
<line x1="427.83" y1="615.4" x2="427.83" y2="616.6" stroke="#222" stroke-width="0.6" />
<line x1="428.8" y1="615.4" x2="428.8" y2="617.6" stroke="#222" stroke-width="0.85" />
<text x="428.8" y="627.3" font-size="7.8" text-anchor="middle" fill="#1a1a1a">10<tspan font-size="5.3" dy="-3.2">-2</tspan></text>
<line x1="435.21" y1="615.4" x2="435.21" y2="616.6" stroke="#222" stroke-width="0.6" />
<line x1="438.95" y1="615.4" x2="438.95" y2="616.6" stroke="#222" stroke-width="0.6" />
<line x1="441.61" y1="615.4" x2="441.61" y2="616.6" stroke="#222" stroke-width="0.6" />
<line x1="443.67" y1="615.4" x2="443.67" y2="616.6" stroke="#222" stroke-width="0.6" />
<line x1="445.36" y1="615.4" x2="445.36" y2="616.6" stroke="#222" stroke-width="0.6" />
<line x1="446.78" y1="615.4" x2="446.78" y2="616.6" stroke="#222" stroke-width="0.6" />
<line x1="448.02" y1="615.4" x2="448.02" y2="616.6" stroke="#222" stroke-width="0.6" />
<line x1="449.11" y1="615.4" x2="449.11" y2="616.6" stroke="#222" stroke-width="0.6" />
<line x1="450.08" y1="615.4" x2="450.08" y2="617.6" stroke="#222" stroke-width="0.85" />
<text x="450.08" y="627.3" font-size="7.8" text-anchor="middle" fill="#1a1a1a">10<tspan font-size="5.3" dy="-3.2">-1</tspan></text>
<line x1="456.49" y1="615.4" x2="456.49" y2="616.6" stroke="#222" stroke-width="0.6" />
<line x1="460.23" y1="615.4" x2="460.23" y2="616.6" stroke="#222" stroke-width="0.6" />
<line x1="462.89" y1="615.4" x2="462.89" y2="616.6" stroke="#222" stroke-width="0.6" />
<line x1="464.95" y1="615.4" x2="464.95" y2="616.6" stroke="#222" stroke-width="0.6" />
<line x1="466.64" y1="615.4" x2="466.64" y2="616.6" stroke="#222" stroke-width="0.6" />
<line x1="468.06" y1="615.4" x2="468.06" y2="616.6" stroke="#222" stroke-width="0.6" />
<line x1="469.3" y1="615.4" x2="469.3" y2="616.6" stroke="#222" stroke-width="0.6" />
<line x1="470.39" y1="615.4" x2="470.39" y2="616.6" stroke="#222" stroke-width="0.6" />
<line x1="471.36" y1="615.4" x2="471.36" y2="617.6" stroke="#222" stroke-width="0.85" />
<text x="471.36" y="627.3" font-size="7.8" text-anchor="middle" fill="#1a1a1a">10<tspan font-size="5.3" dy="-3.2">0</tspan></text>
<line x1="477.77" y1="615.4" x2="477.77" y2="616.6" stroke="#222" stroke-width="0.6" />
<line x1="481.51" y1="615.4" x2="481.51" y2="616.6" stroke="#222" stroke-width="0.6" />
<line x1="484.17" y1="615.4" x2="484.17" y2="616.6" stroke="#222" stroke-width="0.6" />
<line x1="486.23" y1="615.4" x2="486.23" y2="616.6" stroke="#222" stroke-width="0.6" />
<line x1="487.92" y1="615.4" x2="487.92" y2="616.6" stroke="#222" stroke-width="0.6" />
<line x1="489.34" y1="615.4" x2="489.34" y2="616.6" stroke="#222" stroke-width="0.6" />
<line x1="490.58" y1="615.4" x2="490.58" y2="616.6" stroke="#222" stroke-width="0.6" />
<line x1="491.67" y1="615.4" x2="491.67" y2="616.6" stroke="#222" stroke-width="0.6" />
<line x1="492.64" y1="615.4" x2="492.64" y2="617.6" stroke="#222" stroke-width="0.85" />
<text x="492.64" y="627.3" font-size="7.8" text-anchor="middle" fill="#1a1a1a">10<tspan font-size="5.3" dy="-3.2">1</tspan></text>
<line x1="499.05" y1="615.4" x2="499.05" y2="616.6" stroke="#222" stroke-width="0.6" />
<line x1="502.79" y1="615.4" x2="502.79" y2="616.6" stroke="#222" stroke-width="0.6" />
<line x1="505.45" y1="615.4" x2="505.45" y2="616.6" stroke="#222" stroke-width="0.6" />
<line x1="507.51" y1="615.4" x2="507.51" y2="616.6" stroke="#222" stroke-width="0.6" />
<line x1="509.2" y1="615.4" x2="509.2" y2="616.6" stroke="#222" stroke-width="0.6" />
<line x1="510.62" y1="615.4" x2="510.62" y2="616.6" stroke="#222" stroke-width="0.6" />
<line x1="511.86" y1="615.4" x2="511.86" y2="616.6" stroke="#222" stroke-width="0.6" />
<line x1="512.95" y1="615.4" x2="512.95" y2="616.6" stroke="#222" stroke-width="0.6" />
<line x1="513.92" y1="615.4" x2="513.92" y2="617.6" stroke="#222" stroke-width="0.85" />
<text x="513.92" y="627.3" font-size="7.8" text-anchor="middle" fill="#1a1a1a">10<tspan font-size="5.3" dy="-3.2">2</tspan></text>
<line x1="520.33" y1="615.4" x2="520.33" y2="616.6" stroke="#222" stroke-width="0.6" />
<line x1="524.07" y1="615.4" x2="524.07" y2="616.6" stroke="#222" stroke-width="0.6" />
<line x1="526.73" y1="615.4" x2="526.73" y2="616.6" stroke="#222" stroke-width="0.6" />
<line x1="528.79" y1="615.4" x2="528.79" y2="616.6" stroke="#222" stroke-width="0.6" />
<line x1="530.48" y1="615.4" x2="530.48" y2="616.6" stroke="#222" stroke-width="0.6" />
<line x1="531.9" y1="615.4" x2="531.9" y2="616.6" stroke="#222" stroke-width="0.6" />
<line x1="533.14" y1="615.4" x2="533.14" y2="616.6" stroke="#222" stroke-width="0.6" />
<line x1="534.23" y1="615.4" x2="534.23" y2="616.6" stroke="#222" stroke-width="0.6" />
<line x1="535.2" y1="615.4" x2="535.2" y2="617.6" stroke="#222" stroke-width="0.85" />
<text x="535.2" y="627.3" font-size="7.8" text-anchor="middle" fill="#1a1a1a">10<tspan font-size="5.3" dy="-3.2">3</tspan></text>
<line x1="541.61" y1="615.4" x2="541.61" y2="616.6" stroke="#222" stroke-width="0.6" />
<line x1="545.35" y1="615.4" x2="545.35" y2="616.6" stroke="#222" stroke-width="0.6" />
<line x1="548.01" y1="615.4" x2="548.01" y2="616.6" stroke="#222" stroke-width="0.6" />
<circle cx="434.93" cy="583.2" r="1.55" fill="#fff" stroke="#fdd39b" stroke-width="1.22"/>
<circle cx="438.5" cy="583.2" r="1.55" fill="#fff" stroke="#fdd39b" stroke-width="1.22"/>
<circle cx="442.07" cy="583.2" r="1.55" fill="#fff" stroke="#fdd39b" stroke-width="1.22"/>
<circle cx="445.64" cy="583.2" r="1.55" fill="#fff" stroke="#fdd39b" stroke-width="1.22"/>
<circle cx="449.22" cy="583.2" r="1.55" fill="#fff" stroke="#fdd39b" stroke-width="1.22"/>
<circle cx="452.79" cy="583.2" r="1.55" fill="#fff" stroke="#fdd39b" stroke-width="1.22"/>
<circle cx="456.36" cy="583.2" r="1.55" fill="#fff" stroke="#fdd39b" stroke-width="1.22"/>
<circle cx="459.93" cy="583.2" r="1.55" fill="#fff" stroke="#fdd39b" stroke-width="1.22"/>
<circle cx="463.51" cy="583.2" r="1.55" fill="#fff" stroke="#fdd39b" stroke-width="1.22"/>
<circle cx="467.08" cy="583.2" r="1.55" fill="#fff" stroke="#fdd39b" stroke-width="1.22"/>
<circle cx="470.65" cy="583.2" r="1.55" fill="#fff" stroke="#fdd39b" stroke-width="1.22"/>
<circle cx="474.22" cy="583.2" r="1.55" fill="#fff" stroke="#fdd39b" stroke-width="1.22"/>
<circle cx="477.8" cy="583.2" r="1.55" fill="#fff" stroke="#fdd39b" stroke-width="1.22"/>
<circle cx="481.37" cy="583.2" r="1.55" fill="#fff" stroke="#fdd39b" stroke-width="1.22"/>
<circle cx="484.94" cy="583.2" r="1.55" fill="#fff" stroke="#fdd39b" stroke-width="1.22"/>
<circle cx="488.51" cy="583.2" r="1.55" fill="#fff" stroke="#fdd39b" stroke-width="1.22"/>
<circle cx="492.08" cy="583.2" r="1.55" fill="#fff" stroke="#fdd39b" stroke-width="1.22"/>
<circle cx="495.66" cy="583.2" r="1.55" fill="#fff" stroke="#fdd39b" stroke-width="1.22"/>
<circle cx="434.93" cy="609.47" r="1.55" fill="#fff" stroke="#f58220" stroke-width="1.35"/>
<circle cx="438.78" cy="603.87" r="1.55" fill="#fff" stroke="#f58220" stroke-width="1.35"/>
<circle cx="442.28" cy="607.14" r="1.55" fill="#fff" stroke="#f58220" stroke-width="1.35"/>
<circle cx="445.79" cy="606.79" r="1.55" fill="#fff" stroke="#f58220" stroke-width="1.35"/>
<circle cx="449.29" cy="605.62" r="1.55" fill="#fff" stroke="#f58220" stroke-width="1.35"/>
<circle cx="453.03" cy="603.64" r="1.55" fill="#fff" stroke="#f58220" stroke-width="1.35"/>
<circle cx="456.53" cy="607.37" r="1.55" fill="#fff" stroke="#f58220" stroke-width="1.35"/>
<circle cx="460.04" cy="605.62" r="1.55" fill="#fff" stroke="#f58220" stroke-width="1.35"/>
<circle cx="463.54" cy="606.79" r="1.55" fill="#fff" stroke="#f58220" stroke-width="1.35"/>
<circle cx="467.04" cy="607.37" r="1.55" fill="#fff" stroke="#f58220" stroke-width="1.35"/>
<circle cx="470.78" cy="607.96" r="1.55" fill="#fff" stroke="#f58220" stroke-width="1.35"/>
<circle cx="474.28" cy="607.61" r="1.55" fill="#fff" stroke="#f58220" stroke-width="1.35"/>
<circle cx="477.79" cy="607.61" r="1.55" fill="#fff" stroke="#f58220" stroke-width="1.35"/>
<circle cx="481.29" cy="607.61" r="1.55" fill="#fff" stroke="#f58220" stroke-width="1.35"/>
<circle cx="484.8" cy="607.96" r="1.55" fill="#fff" stroke="#f58220" stroke-width="1.35"/>
<circle cx="488.42" cy="607.96" r="1.55" fill="#fff" stroke="#f58220" stroke-width="1.35"/>
<circle cx="491.92" cy="607.96" r="1.55" fill="#fff" stroke="#f58220" stroke-width="1.35"/>
<circle cx="495.66" cy="607.96" r="1.55" fill="#fff" stroke="#f58220" stroke-width="1.35"/>
<circle cx="500.9" cy="520.47" r="1.55" fill="#fff" stroke="#111" stroke-width="1.35"/>
<circle cx="504.5" cy="520.47" r="1.55" fill="#fff" stroke="#111" stroke-width="1.35"/>
<circle cx="508.1" cy="520.47" r="1.55" fill="#fff" stroke="#111" stroke-width="1.35"/>
<circle cx="511.7" cy="520.47" r="1.55" fill="#fff" stroke="#111" stroke-width="1.35"/>
<circle cx="515.3" cy="520.57" r="1.55" fill="#fff" stroke="#111" stroke-width="1.35"/>
<circle cx="518.9" cy="520.67" r="1.55" fill="#fff" stroke="#111" stroke-width="1.35"/>
<circle cx="522.3" cy="520.97" r="1.55" fill="#fff" stroke="#111" stroke-width="1.35"/>
<circle cx="525.3" cy="521.68" r="1.55" fill="#fff" stroke="#111" stroke-width="1.35"/>
<circle cx="527.8" cy="522.88" r="1.55" fill="#fff" stroke="#111" stroke-width="1.35"/>
<circle cx="529.8" cy="525.1" r="1.55" fill="#fff" stroke="#111" stroke-width="1.35"/>
<circle cx="531.2" cy="529.13" r="1.55" fill="#fff" stroke="#111" stroke-width="1.35"/>
<circle cx="531.5" cy="534.17" r="1.55" fill="#fff" stroke="#111" stroke-width="1.35"/>
<circle cx="531" cy="539.21" r="1.55" fill="#fff" stroke="#111" stroke-width="1.35"/>
<circle cx="530.5" cy="543.75" r="1.55" fill="#fff" stroke="#111" stroke-width="1.35"/>
<circle cx="530.3" cy="547.78" r="1.55" fill="#fff" stroke="#111" stroke-width="1.35"/>
<circle cx="530.8" cy="552.32" r="1.55" fill="#fff" stroke="#111" stroke-width="1.35"/>
<circle cx="531.5" cy="556.85" r="1.55" fill="#fff" stroke="#111" stroke-width="1.35"/>
<circle cx="534.2" cy="560.58" r="1.55" fill="#fff" stroke="#111" stroke-width="1.35"/>
<circle cx="500.9" cy="530.24" r="1.55" fill="#fff" stroke="#858585" stroke-width="1.22"/>
<circle cx="504.5" cy="530.24" r="1.55" fill="#fff" stroke="#858585" stroke-width="1.22"/>
<circle cx="508.1" cy="530.24" r="1.55" fill="#fff" stroke="#858585" stroke-width="1.22"/>
<circle cx="511.7" cy="530.24" r="1.55" fill="#fff" stroke="#858585" stroke-width="1.22"/>
<circle cx="515.3" cy="530.24" r="1.55" fill="#fff" stroke="#858585" stroke-width="1.22"/>
<circle cx="518.9" cy="530.14" r="1.55" fill="#fff" stroke="#858585" stroke-width="1.22"/>
<circle cx="522.3" cy="529.84" r="1.55" fill="#fff" stroke="#858585" stroke-width="1.22"/>
<circle cx="525.3" cy="529.13" r="1.55" fill="#fff" stroke="#858585" stroke-width="1.22"/>
<circle cx="528.2" cy="527.92" r="1.55" fill="#fff" stroke="#858585" stroke-width="1.22"/>
<circle cx="531" cy="527.12" r="1.55" fill="#fff" stroke="#858585" stroke-width="1.22"/>
<circle cx="531.6" cy="529.64" r="1.55" fill="#fff" stroke="#858585" stroke-width="1.22"/>
<circle cx="531" cy="533.97" r="1.55" fill="#fff" stroke="#858585" stroke-width="1.22"/>
<circle cx="530.2" cy="538.71" r="1.55" fill="#fff" stroke="#858585" stroke-width="1.22"/>
<circle cx="530" cy="542.94" r="1.55" fill="#fff" stroke="#858585" stroke-width="1.22"/>
<circle cx="530.6" cy="546.88" r="1.55" fill="#fff" stroke="#858585" stroke-width="1.22"/>
<circle cx="531.3" cy="550.81" r="1.55" fill="#fff" stroke="#858585" stroke-width="1.22"/>
<circle cx="532.5" cy="553.83" r="1.55" fill="#fff" stroke="#858585" stroke-width="1.22"/>
<circle cx="535" cy="554.64" r="1.55" fill="#fff" stroke="#858585" stroke-width="1.22"/>
<line x1="425.1" y1="521.8" x2="436.1" y2="521.8" stroke="#111" stroke-width="0.9" />
<circle cx="430.8" cy="521.8" r="1.75" fill="#fff" stroke="#111" stroke-width="1.35"/>
<text x="438.3" y="524.2" font-size="7.6" fill="#1a1a1a"><tspan font-style="italic">G</tspan><tspan dx="0.3">&#8242;</tspan><tspan font-size="5.6" dx="0.9" dy="1.9">ink</tspan></text>
<line x1="425.1" y1="534.3" x2="436.1" y2="534.3" stroke="#858585" stroke-width="0.9" />
<circle cx="430.8" cy="534.3" r="1.75" fill="#fff" stroke="#858585" stroke-width="1.22"/>
<text x="438.3" y="536.7" font-size="7.6" fill="#1a1a1a"><tspan font-style="italic">G</tspan><tspan dx="0.3">&#8243;</tspan><tspan font-size="5.6" dx="0.9" dy="1.9">ink</tspan></text>
<line x1="461.6" y1="521.8" x2="472.6" y2="521.8" stroke="#f58220" stroke-width="0.9" />
<circle cx="467.3" cy="521.8" r="1.75" fill="#fff" stroke="#f58220" stroke-width="1.35"/>
<text x="474.8" y="524.2" font-size="7.6" fill="#1a1a1a"><tspan font-style="italic">G</tspan><tspan dx="0.3">&#8242;</tspan><tspan font-size="5.6" dx="0.9" dy="1.9">bath</tspan></text>
<line x1="461.6" y1="534.3" x2="472.6" y2="534.3" stroke="#fdd39b" stroke-width="0.9" />
<circle cx="467.3" cy="534.3" r="1.75" fill="#fff" stroke="#fdd39b" stroke-width="1.22"/>
<text x="474.8" y="536.7" font-size="7.6" fill="#1a1a1a"><tspan font-style="italic">G</tspan><tspan dx="0.3">&#8243;</tspan><tspan font-size="5.6" dx="0.9" dy="1.9">bath</tspan></text>
<text x="482.6" y="639.6" font-size="8.2" text-anchor="middle" fill="#1a1a1a" >Shear stress (Pa)</text>
<text transform="translate(401,566.2) rotate(-90)" font-size="8.2" text-anchor="middle" fill="#1a1a1a" >Modulus (Pa)</text>
<rect x="605.3" y="56.48" width="26.2" height="73.92" fill="#ec5f5f" stroke="#111" stroke-width="0.9"/>
<rect x="646.1" y="100.16" width="26.9" height="30.24" fill="#626262" stroke="#111" stroke-width="0.9"/>
<line x1="618.4" y1="56.48" x2="618.4" y2="45.28" stroke="#111" stroke-width="0.9" />
<line x1="612.2" y1="45.28" x2="624.6" y2="45.28" stroke="#111" stroke-width="0.9" />
<line x1="659.55" y1="100.16" x2="659.55" y2="99.71" stroke="#111" stroke-width="0.9" />
<line x1="653.35" y1="99.71" x2="665.75" y2="99.71" stroke="#111" stroke-width="0.9" />
<circle cx="616.3" cy="44.9" r="1.5" fill="#e8171c"/>
<circle cx="615.3" cy="52.8" r="1.5" fill="#e8171c"/>
<circle cx="621.6" cy="58.5" r="1.5" fill="#e8171c"/>
<circle cx="617" cy="68.5" r="1.5" fill="#e8171c"/>
<circle cx="656.5" cy="99.6" r="1.6" fill="#111"/>
<circle cx="658.8" cy="99" r="1.6" fill="#111"/>
<circle cx="660.5" cy="99.9" r="1.6" fill="#111"/>
<rect x="597.6" y="18.4" width="82.4" height="112" fill="none" stroke="#222" stroke-width="0.85"/>
<line x1="595.4" y1="119.2" x2="597.6" y2="119.2" stroke="#222" stroke-width="0.85" />
<text x="594.2" y="122" font-size="7.8" text-anchor="end" fill="#1a1a1a" >0.96</text>
<line x1="596.4" y1="108" x2="597.6" y2="108" stroke="#222" stroke-width="0.6" />
<line x1="595.4" y1="96.8" x2="597.6" y2="96.8" stroke="#222" stroke-width="0.85" />
<text x="594.2" y="99.6" font-size="7.8" text-anchor="end" fill="#1a1a1a" >0.98</text>
<line x1="596.4" y1="85.6" x2="597.6" y2="85.6" stroke="#222" stroke-width="0.6" />
<line x1="595.4" y1="74.4" x2="597.6" y2="74.4" stroke="#222" stroke-width="0.85" />
<text x="594.2" y="77.2" font-size="7.8" text-anchor="end" fill="#1a1a1a" >1.00</text>
<line x1="596.4" y1="63.2" x2="597.6" y2="63.2" stroke="#222" stroke-width="0.6" />
<line x1="595.4" y1="52" x2="597.6" y2="52" stroke="#222" stroke-width="0.85" />
<text x="594.2" y="54.8" font-size="7.8" text-anchor="end" fill="#1a1a1a" >1.02</text>
<line x1="596.4" y1="40.8" x2="597.6" y2="40.8" stroke="#222" stroke-width="0.6" />
<line x1="595.4" y1="29.6" x2="597.6" y2="29.6" stroke="#222" stroke-width="0.85" />
<text x="594.2" y="32.4" font-size="7.8" text-anchor="end" fill="#1a1a1a" >1.04</text>
<text x="618.1" y="41.4" font-size="7.8" text-anchor="middle" fill="#1a1a1a" >1.016</text>
<text x="659" y="95.2" font-size="7.8" text-anchor="middle" fill="#1a1a1a" >0.977</text>
<text x="618.4" y="142" font-size="8.2" text-anchor="middle" fill="#1a1a1a" >Ink</text>
<text x="659.55" y="142" font-size="8.2" text-anchor="middle" fill="#1a1a1a" >Bath</text>
<text transform="translate(576.2,72.4) rotate(-90)" font-size="8.2" text-anchor="middle" fill="#1a1a1a" >Density (g/cm<tspan font-size="5.9" dy="-3.4">3</tspan><tspan dy="3.4">)</tspan></text>
<rect x="605.1" y="242.35" width="27" height="57.05" fill="#ec5f5f" stroke="#111" stroke-width="0.9"/>
<rect x="647.3" y="230.94" width="26.5" height="68.46" fill="#626262" stroke="#111" stroke-width="0.9"/>
<line x1="618.6" y1="242.35" x2="618.6" y2="239.64" stroke="#111" stroke-width="0.9" />
<line x1="612.4" y1="239.64" x2="624.8" y2="239.64" stroke="#111" stroke-width="0.9" />
<line x1="660.55" y1="230.94" x2="660.55" y2="229.23" stroke="#111" stroke-width="0.9" />
<line x1="654.35" y1="229.23" x2="666.75" y2="229.23" stroke="#111" stroke-width="0.9" />
<circle cx="616.7" cy="239.3" r="1.5" fill="#e8171c"/>
<circle cx="622.3" cy="239.3" r="1.5" fill="#e8171c"/>
<circle cx="615.6" cy="242.6" r="1.5" fill="#e8171c"/>
<circle cx="617.6" cy="246.8" r="1.5" fill="#e8171c"/>
<circle cx="656.1" cy="231" r="1.6" fill="#111"/>
<circle cx="658.3" cy="230.2" r="1.6" fill="#111"/>
<circle cx="659.6" cy="230.3" r="1.6" fill="#111"/>
<circle cx="661.1" cy="235.4" r="1.6" fill="#111"/>
<rect x="597.6" y="185.3" width="83.7" height="114.1" fill="none" stroke="#222" stroke-width="0.85"/>
<line x1="595.4" y1="285.14" x2="597.6" y2="285.14" stroke="#222" stroke-width="0.85" />
<text x="594.2" y="287.94" font-size="7.8" text-anchor="end" fill="#1a1a1a" >0.96</text>
<line x1="596.4" y1="270.88" x2="597.6" y2="270.88" stroke="#222" stroke-width="0.6" />
<line x1="595.4" y1="256.61" x2="597.6" y2="256.61" stroke="#222" stroke-width="0.85" />
<text x="594.2" y="259.41" font-size="7.8" text-anchor="end" fill="#1a1a1a" >0.98</text>
<line x1="596.4" y1="242.35" x2="597.6" y2="242.35" stroke="#222" stroke-width="0.6" />
<line x1="595.4" y1="228.09" x2="597.6" y2="228.09" stroke="#222" stroke-width="0.85" />
<text x="594.2" y="230.89" font-size="7.8" text-anchor="end" fill="#1a1a1a" >1.00</text>
<line x1="596.4" y1="213.82" x2="597.6" y2="213.82" stroke="#222" stroke-width="0.6" />
<line x1="595.4" y1="199.56" x2="597.6" y2="199.56" stroke="#222" stroke-width="0.85" />
<text x="594.2" y="202.36" font-size="7.8" text-anchor="end" fill="#1a1a1a" >1.02</text>
<text x="617.9" y="235.2" font-size="7.8" text-anchor="middle" fill="#1a1a1a" >0.990</text>
<text x="660.9" y="225.2" font-size="7.8" text-anchor="middle" fill="#1a1a1a" >0.998</text>
<text x="618.6" y="311" font-size="8.2" text-anchor="middle" fill="#1a1a1a" >Ink</text>
<text x="660.55" y="311" font-size="8.2" text-anchor="middle" fill="#1a1a1a" >Bath</text>
<text transform="translate(576.2,241.15) rotate(-90)" font-size="8.2" text-anchor="middle" fill="#1a1a1a" >Density (g/cm<tspan font-size="5.9" dy="-3.4">3</tspan><tspan dy="3.4">)</tspan></text>
<rect x="605.1" y="386.69" width="26.6" height="74.91" fill="#ec5f5f" stroke="#111" stroke-width="0.9"/>
<rect x="646.4" y="407.12" width="26.4" height="54.48" fill="#626262" stroke="#111" stroke-width="0.9"/>
<line x1="618.4" y1="386.69" x2="618.4" y2="375.34" stroke="#111" stroke-width="0.9" />
<line x1="612.2" y1="375.34" x2="624.6" y2="375.34" stroke="#111" stroke-width="0.9" />
<line x1="659.6" y1="407.12" x2="659.6" y2="405.99" stroke="#111" stroke-width="0.9" />
<line x1="653.4" y1="405.99" x2="665.8" y2="405.99" stroke="#111" stroke-width="0.9" />
<circle cx="615.9" cy="375.6" r="1.5" fill="#e8171c"/>
<circle cx="614.8" cy="383.5" r="1.5" fill="#e8171c"/>
<circle cx="621.6" cy="389.2" r="1.5" fill="#e8171c"/>
<circle cx="617.1" cy="399.3" r="1.5" fill="#e8171c"/>
<circle cx="655.4" cy="406.8" r="1.6" fill="#111"/>
<circle cx="658.4" cy="406.3" r="1.6" fill="#111"/>
<circle cx="660" cy="410.6" r="1.6" fill="#111"/>
<rect x="597.6" y="348.1" width="82.7" height="113.5" fill="none" stroke="#222" stroke-width="0.85"/>
<line x1="595.4" y1="450.25" x2="597.6" y2="450.25" stroke="#222" stroke-width="0.85" />
<text x="594.2" y="453.05" font-size="7.8" text-anchor="end" fill="#1a1a1a" >0.96</text>
<line x1="596.4" y1="438.9" x2="597.6" y2="438.9" stroke="#222" stroke-width="0.6" />
<line x1="595.4" y1="427.55" x2="597.6" y2="427.55" stroke="#222" stroke-width="0.85" />
<text x="594.2" y="430.35" font-size="7.8" text-anchor="end" fill="#1a1a1a" >0.98</text>
<line x1="596.4" y1="416.2" x2="597.6" y2="416.2" stroke="#222" stroke-width="0.6" />
<line x1="595.4" y1="404.85" x2="597.6" y2="404.85" stroke="#222" stroke-width="0.85" />
<text x="594.2" y="407.65" font-size="7.8" text-anchor="end" fill="#1a1a1a" >1.00</text>
<line x1="596.4" y1="393.5" x2="597.6" y2="393.5" stroke="#222" stroke-width="0.6" />
<line x1="595.4" y1="382.15" x2="597.6" y2="382.15" stroke="#222" stroke-width="0.85" />
<text x="594.2" y="384.95" font-size="7.8" text-anchor="end" fill="#1a1a1a" >1.02</text>
<line x1="596.4" y1="370.8" x2="597.6" y2="370.8" stroke="#222" stroke-width="0.6" />
<line x1="595.4" y1="359.45" x2="597.6" y2="359.45" stroke="#222" stroke-width="0.85" />
<text x="594.2" y="362.25" font-size="7.8" text-anchor="end" fill="#1a1a1a" >1.04</text>
<text x="617.7" y="371.7" font-size="7.8" text-anchor="middle" fill="#1a1a1a" >1.016</text>
<text x="658.8" y="402.1" font-size="7.8" text-anchor="middle" fill="#1a1a1a" >0.998</text>
<text x="618.4" y="473.2" font-size="8.2" text-anchor="middle" fill="#1a1a1a" >Ink</text>
<text x="659.6" y="473.2" font-size="8.2" text-anchor="middle" fill="#1a1a1a" >Bath</text>
<text transform="translate(576.2,403.65) rotate(-90)" font-size="8.2" text-anchor="middle" fill="#1a1a1a" >Density (g/cm<tspan font-size="5.9" dy="-3.4">3</tspan><tspan dy="3.4">)</tspan></text>
<rect x="605.1" y="550.73" width="27.1" height="75.27" fill="#ec5f5f" stroke="#111" stroke-width="0.9"/>
<rect x="647.4" y="608.15" width="26.2" height="17.85" fill="#626262" stroke="#111" stroke-width="0.9"/>
<line x1="618.65" y1="550.73" x2="618.65" y2="539.59" stroke="#111" stroke-width="0.9" />
<line x1="612.45" y1="539.59" x2="624.85" y2="539.59" stroke="#111" stroke-width="0.9" />
<line x1="660.5" y1="608.15" x2="660.5" y2="604.17" stroke="#111" stroke-width="0.9" />
<line x1="654.3" y1="604.17" x2="666.7" y2="604.17" stroke="#111" stroke-width="0.9" />
<circle cx="616.3" cy="539.2" r="1.5" fill="#e8171c"/>
<circle cx="615.3" cy="547.2" r="1.5" fill="#e8171c"/>
<circle cx="621.8" cy="553" r="1.5" fill="#e8171c"/>
<circle cx="617.3" cy="563.3" r="1.5" fill="#e8171c"/>
<circle cx="659.8" cy="604.5" r="1.6" fill="#111"/>
<circle cx="660.9" cy="608.2" r="1.6" fill="#111"/>
<circle cx="656.2" cy="612.4" r="1.6" fill="#111"/>
<rect x="597.6" y="512.3" width="83.1" height="113.7" fill="none" stroke="#222" stroke-width="0.85"/>
<line x1="595.4" y1="614.63" x2="597.6" y2="614.63" stroke="#222" stroke-width="0.85" />
<text x="594.2" y="617.43" font-size="7.8" text-anchor="end" fill="#1a1a1a" >0.96</text>
<line x1="596.4" y1="603.26" x2="597.6" y2="603.26" stroke="#222" stroke-width="0.6" />
<line x1="595.4" y1="591.89" x2="597.6" y2="591.89" stroke="#222" stroke-width="0.85" />
<text x="594.2" y="594.69" font-size="7.8" text-anchor="end" fill="#1a1a1a" >0.98</text>
<line x1="596.4" y1="580.52" x2="597.6" y2="580.52" stroke="#222" stroke-width="0.6" />
<line x1="595.4" y1="569.15" x2="597.6" y2="569.15" stroke="#222" stroke-width="0.85" />
<text x="594.2" y="571.95" font-size="7.8" text-anchor="end" fill="#1a1a1a" >1.00</text>
<line x1="596.4" y1="557.78" x2="597.6" y2="557.78" stroke="#222" stroke-width="0.6" />
<line x1="595.4" y1="546.41" x2="597.6" y2="546.41" stroke="#222" stroke-width="0.85" />
<text x="594.2" y="549.21" font-size="7.8" text-anchor="end" fill="#1a1a1a" >1.02</text>
<line x1="596.4" y1="535.04" x2="597.6" y2="535.04" stroke="#222" stroke-width="0.6" />
<line x1="595.4" y1="523.67" x2="597.6" y2="523.67" stroke="#222" stroke-width="0.85" />
<text x="594.2" y="526.47" font-size="7.8" text-anchor="end" fill="#1a1a1a" >1.04</text>
<text x="618.4" y="536.3" font-size="7.8" text-anchor="middle" fill="#1a1a1a" >1.016</text>
<text x="660.2" y="600.8" font-size="7.8" text-anchor="middle" fill="#1a1a1a" >0.966</text>
<text x="618.65" y="637.6" font-size="8.2" text-anchor="middle" fill="#1a1a1a" >Ink</text>
<text x="660.5" y="637.6" font-size="8.2" text-anchor="middle" fill="#1a1a1a" >Bath</text>
<text transform="translate(576.2,567.95) rotate(-90)" font-size="8.2" text-anchor="middle" fill="#1a1a1a" >Density (g/cm<tspan font-size="5.9" dy="-3.4">3</tspan><tspan dy="3.4">)</tspan></text>
</svg>
</body></html>
